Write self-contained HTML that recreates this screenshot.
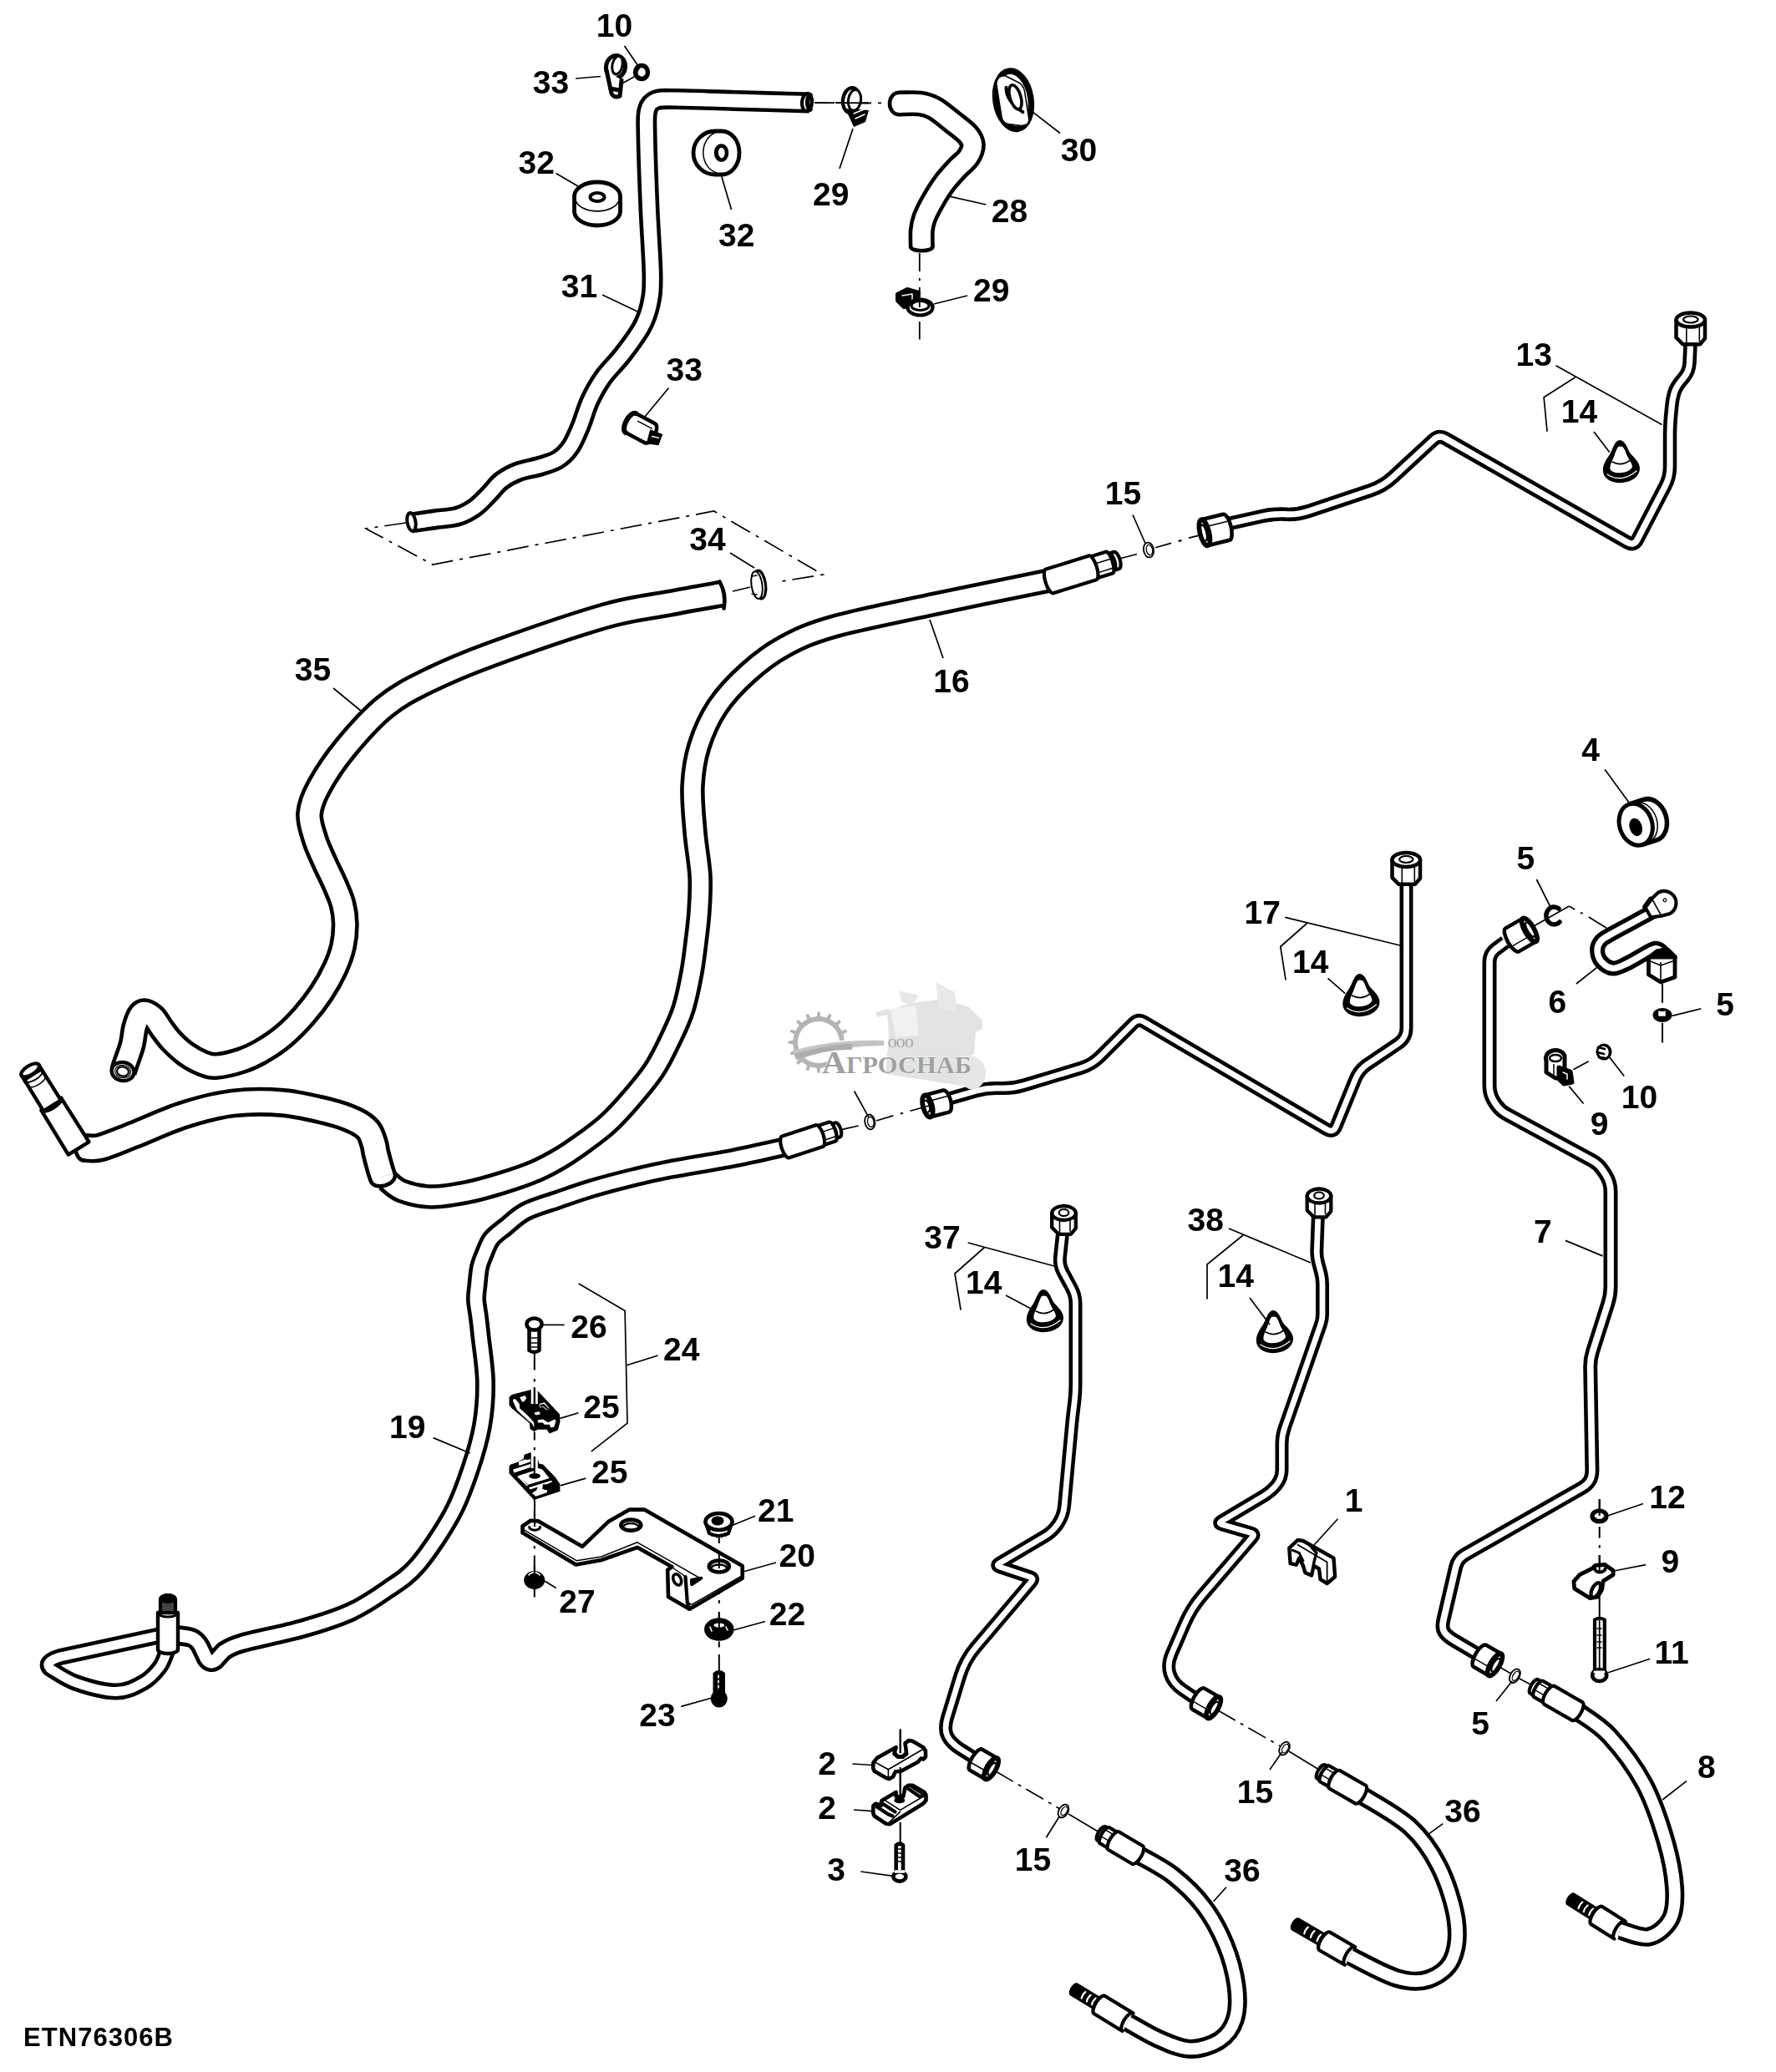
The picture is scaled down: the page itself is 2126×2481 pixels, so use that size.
<!DOCTYPE html>
<html><head><meta charset="utf-8"><title>ETN76306B</title>
<style>html,body{margin:0;padding:0;background:#fff;}body{width:2126px;height:2481px;overflow:hidden;font-family:"Liberation Sans",sans-serif;}</style></head>
<body>
<svg xmlns="http://www.w3.org/2000/svg" width="2126" height="2481" viewBox="0 0 2126 2481" style="display:block" font-family="Liberation Sans, sans-serif" font-weight="bold">
<path d="M969.0 123.0 C954.2 122.6 906.5 121.2 880.0 120.5 C853.5 119.8 825.8 118.6 810.0 118.5 C794.2 118.4 790.8 117.8 785.0 120.0 C779.2 122.2 776.8 125.3 775.0 132.0 C773.2 138.7 773.7 140.3 774.0 160.0 C774.3 179.7 775.8 221.7 777.0 250.0 C778.2 278.3 780.8 310.8 781.0 330.0 C781.2 349.2 780.2 354.7 778.0 365.0 C775.8 375.3 773.5 382.0 768.0 392.0 C762.5 402.0 752.7 415.0 745.0 425.0 C737.3 435.0 728.5 442.8 722.0 452.0 C715.5 461.2 710.5 470.3 706.0 480.0 C701.5 489.7 698.8 500.8 695.0 510.0 C691.2 519.2 687.5 528.3 683.0 535.0 C678.5 541.7 674.0 546.2 668.0 550.0 C662.0 553.8 655.0 555.5 647.0 558.0 C639.0 560.5 627.8 562.0 620.0 565.0 C612.2 568.0 605.8 571.5 600.0 576.0 C594.2 580.5 590.3 586.7 585.0 592.0 C579.7 597.3 574.2 603.7 568.0 608.0 C561.8 612.3 556.0 615.7 548.0 618.0 C540.0 620.3 529.3 620.7 520.0 622.0 C510.7 623.3 496.7 625.3 492.0 626.0" fill="none" stroke="#000" stroke-width="25.0" stroke-linecap="butt" stroke-linejoin="round"/>
<path d="M969.0 123.0 C954.2 122.6 906.5 121.2 880.0 120.5 C853.5 119.8 825.8 118.6 810.0 118.5 C794.2 118.4 790.8 117.8 785.0 120.0 C779.2 122.2 776.8 125.3 775.0 132.0 C773.2 138.7 773.7 140.3 774.0 160.0 C774.3 179.7 775.8 221.7 777.0 250.0 C778.2 278.3 780.8 310.8 781.0 330.0 C781.2 349.2 780.2 354.7 778.0 365.0 C775.8 375.3 773.5 382.0 768.0 392.0 C762.5 402.0 752.7 415.0 745.0 425.0 C737.3 435.0 728.5 442.8 722.0 452.0 C715.5 461.2 710.5 470.3 706.0 480.0 C701.5 489.7 698.8 500.8 695.0 510.0 C691.2 519.2 687.5 528.3 683.0 535.0 C678.5 541.7 674.0 546.2 668.0 550.0 C662.0 553.8 655.0 555.5 647.0 558.0 C639.0 560.5 627.8 562.0 620.0 565.0 C612.2 568.0 605.8 571.5 600.0 576.0 C594.2 580.5 590.3 586.7 585.0 592.0 C579.7 597.3 574.2 603.7 568.0 608.0 C561.8 612.3 556.0 615.7 548.0 618.0 C540.0 620.3 529.3 620.7 520.0 622.0 C510.7 623.3 496.7 625.3 492.0 626.0" fill="none" stroke="#fff" stroke-width="15.8" stroke-linecap="butt" stroke-linejoin="round"/>
<path d="M1077.0 124.0 C1081.0 124.0 1094.1 123.1 1101.0 124.0 C1107.9 124.9 1111.8 125.9 1118.3 129.5 C1124.8 133.1 1133.1 140.4 1139.7 145.6 C1146.3 150.8 1153.8 156.0 1157.9 160.6 C1162.0 165.2 1164.1 168.8 1164.3 173.4 C1164.5 178.0 1162.0 183.8 1159.0 188.4 C1156.0 193.0 1150.7 196.2 1146.1 201.2 C1141.5 206.2 1136.0 211.9 1131.2 218.3 C1126.4 224.7 1121.4 232.6 1117.3 239.7 C1113.2 246.8 1108.9 255.0 1106.6 261.1 C1104.3 267.2 1103.8 270.4 1103.3 276.1 C1102.8 281.8 1103.3 292.1 1103.3 295.3" fill="none" stroke="#000" stroke-width="31.0" stroke-linecap="butt" stroke-linejoin="round"/>
<path d="M1077.0 124.0 C1081.0 124.0 1094.1 123.1 1101.0 124.0 C1107.9 124.9 1111.8 125.9 1118.3 129.5 C1124.8 133.1 1133.1 140.4 1139.7 145.6 C1146.3 150.8 1153.8 156.0 1157.9 160.6 C1162.0 165.2 1164.1 168.8 1164.3 173.4 C1164.5 178.0 1162.0 183.8 1159.0 188.4 C1156.0 193.0 1150.7 196.2 1146.1 201.2 C1141.5 206.2 1136.0 211.9 1131.2 218.3 C1126.4 224.7 1121.4 232.6 1117.3 239.7 C1113.2 246.8 1108.9 255.0 1106.6 261.1 C1104.3 267.2 1103.8 270.4 1103.3 276.1 C1102.8 281.8 1103.3 292.1 1103.3 295.3" fill="none" stroke="#fff" stroke-width="21.8" stroke-linecap="butt" stroke-linejoin="round"/>
<path d="M1077.0 110.8 C1061.0 110.8 1061.0 137.2 1077.0 137.2" fill="#fff" stroke="#000" stroke-width="4.6" stroke-linejoin="round" stroke-linecap="round" />
<path d="M1090.1 295.3 C1090.1 301.9 1116.5 301.9 1116.5 295.3" fill="#fff" stroke="#000" stroke-width="4.6" stroke-linejoin="round" stroke-linecap="round" />
<path d="M864.0 711.0 C853.3 712.9 823.5 718.0 800.0 722.5 C776.5 727.0 758.3 727.8 723.0 738.0 C687.7 748.2 623.2 770.6 588.0 783.5 C552.8 796.4 533.2 805.1 512.0 815.5 C490.8 825.9 477.3 832.8 461.0 846.0 C444.7 859.2 427.2 879.0 414.0 895.0 C400.8 911.0 389.2 928.8 382.0 942.0 C374.8 955.2 371.4 963.8 370.6 974.3 C369.8 984.8 374.1 995.3 377.0 1005.0 C379.9 1014.7 384.3 1023.2 388.3 1032.3 C392.3 1041.3 397.4 1050.9 401.0 1059.3 C404.6 1067.7 408.0 1074.9 410.0 1082.7 C412.0 1090.5 413.1 1097.6 413.2 1106.0 C413.3 1114.4 412.5 1124.0 410.5 1133.0 C408.5 1142.0 405.3 1150.7 401.0 1160.0 C396.7 1169.3 390.9 1179.7 384.7 1189.0 C378.5 1198.3 371.5 1207.4 364.0 1216.0 C356.5 1224.6 348.0 1233.3 339.6 1240.4 C331.2 1247.5 321.9 1253.5 313.5 1258.4 C305.1 1263.3 298.2 1266.7 289.2 1269.7 C280.2 1272.7 267.2 1275.8 259.5 1276.4 C251.8 1277.0 249.4 1275.7 243.2 1273.3 C237.0 1270.9 228.9 1266.6 222.5 1262.0 C216.1 1257.4 209.4 1251.0 204.5 1245.8 C199.6 1240.6 196.6 1235.8 193.0 1231.0 C189.4 1226.2 186.8 1220.1 183.0 1217.0 C179.2 1213.9 173.5 1210.5 170.0 1212.5 C166.5 1214.5 164.0 1222.6 162.0 1229.0 C160.0 1235.4 160.0 1243.4 158.0 1251.0 C156.0 1258.6 151.8 1269.3 150.0 1274.6 C148.2 1279.9 147.9 1281.6 147.5 1283.0" fill="none" stroke="#000" stroke-width="33.0" stroke-linecap="butt" stroke-linejoin="round"/>
<path d="M864.0 711.0 C853.3 712.9 823.5 718.0 800.0 722.5 C776.5 727.0 758.3 727.8 723.0 738.0 C687.7 748.2 623.2 770.6 588.0 783.5 C552.8 796.4 533.2 805.1 512.0 815.5 C490.8 825.9 477.3 832.8 461.0 846.0 C444.7 859.2 427.2 879.0 414.0 895.0 C400.8 911.0 389.2 928.8 382.0 942.0 C374.8 955.2 371.4 963.8 370.6 974.3 C369.8 984.8 374.1 995.3 377.0 1005.0 C379.9 1014.7 384.3 1023.2 388.3 1032.3 C392.3 1041.3 397.4 1050.9 401.0 1059.3 C404.6 1067.7 408.0 1074.9 410.0 1082.7 C412.0 1090.5 413.1 1097.6 413.2 1106.0 C413.3 1114.4 412.5 1124.0 410.5 1133.0 C408.5 1142.0 405.3 1150.7 401.0 1160.0 C396.7 1169.3 390.9 1179.7 384.7 1189.0 C378.5 1198.3 371.5 1207.4 364.0 1216.0 C356.5 1224.6 348.0 1233.3 339.6 1240.4 C331.2 1247.5 321.9 1253.5 313.5 1258.4 C305.1 1263.3 298.2 1266.7 289.2 1269.7 C280.2 1272.7 267.2 1275.8 259.5 1276.4 C251.8 1277.0 249.4 1275.7 243.2 1273.3 C237.0 1270.9 228.9 1266.6 222.5 1262.0 C216.1 1257.4 209.4 1251.0 204.5 1245.8 C199.6 1240.6 196.6 1235.8 193.0 1231.0 C189.4 1226.2 186.8 1220.1 183.0 1217.0 C179.2 1213.9 173.5 1210.5 170.0 1212.5 C166.5 1214.5 164.0 1222.6 162.0 1229.0 C160.0 1235.4 160.0 1243.4 158.0 1251.0 C156.0 1258.6 151.8 1269.3 150.0 1274.6 C148.2 1279.9 147.9 1281.6 147.5 1283.0" fill="none" stroke="#fff" stroke-width="23.8" stroke-linecap="butt" stroke-linejoin="round"/>
<path d="M1256.0 695.0 C1233.3 699.7 1162.8 713.8 1120.0 723.0 C1077.2 732.2 1029.2 741.5 999.0 750.0 C968.8 758.5 956.3 764.7 939.0 774.0 C921.7 783.3 908.3 794.0 895.0 806.0 C881.7 818.0 868.7 831.5 859.0 846.0 C849.3 860.5 842.0 877.2 837.0 893.0 C832.0 908.8 829.8 923.7 829.0 941.0 C828.2 958.3 830.5 979.0 832.0 997.0 C833.5 1015.0 837.2 1033.5 838.0 1049.0 C838.8 1064.5 837.7 1078.2 837.0 1090.0 C836.3 1101.8 835.5 1107.7 834.0 1120.0 C832.5 1132.3 830.7 1149.3 828.0 1164.0 C825.3 1178.7 822.2 1194.6 818.0 1208.0 C813.8 1221.4 808.3 1232.3 802.5 1244.5 C796.7 1256.7 790.6 1269.4 783.0 1281.0 C775.4 1292.6 766.2 1303.3 757.0 1314.0 C747.8 1324.7 737.5 1336.2 728.0 1345.0 C718.5 1353.8 709.3 1360.2 700.0 1367.0 C690.7 1373.8 681.7 1380.2 672.0 1386.0 C662.3 1391.8 653.4 1396.9 641.6 1402.0 C629.8 1407.1 614.6 1412.2 601.0 1416.4 C587.4 1420.6 574.0 1424.6 560.0 1427.4 C546.0 1430.2 530.2 1433.2 517.0 1433.0 C503.8 1432.8 490.2 1429.5 481.0 1426.0 C471.8 1422.5 465.2 1414.3 462.0 1412.0" fill="none" stroke="#000" stroke-width="29.5" stroke-linecap="butt" stroke-linejoin="round"/>
<path d="M1256.0 695.0 C1233.3 699.7 1162.8 713.8 1120.0 723.0 C1077.2 732.2 1029.2 741.5 999.0 750.0 C968.8 758.5 956.3 764.7 939.0 774.0 C921.7 783.3 908.3 794.0 895.0 806.0 C881.7 818.0 868.7 831.5 859.0 846.0 C849.3 860.5 842.0 877.2 837.0 893.0 C832.0 908.8 829.8 923.7 829.0 941.0 C828.2 958.3 830.5 979.0 832.0 997.0 C833.5 1015.0 837.2 1033.5 838.0 1049.0 C838.8 1064.5 837.7 1078.2 837.0 1090.0 C836.3 1101.8 835.5 1107.7 834.0 1120.0 C832.5 1132.3 830.7 1149.3 828.0 1164.0 C825.3 1178.7 822.2 1194.6 818.0 1208.0 C813.8 1221.4 808.3 1232.3 802.5 1244.5 C796.7 1256.7 790.6 1269.4 783.0 1281.0 C775.4 1292.6 766.2 1303.3 757.0 1314.0 C747.8 1324.7 737.5 1336.2 728.0 1345.0 C718.5 1353.8 709.3 1360.2 700.0 1367.0 C690.7 1373.8 681.7 1380.2 672.0 1386.0 C662.3 1391.8 653.4 1396.9 641.6 1402.0 C629.8 1407.1 614.6 1412.2 601.0 1416.4 C587.4 1420.6 574.0 1424.6 560.0 1427.4 C546.0 1430.2 530.2 1433.2 517.0 1433.0 C503.8 1432.8 490.2 1429.5 481.0 1426.0 C471.8 1422.5 465.2 1414.3 462.0 1412.0" fill="none" stroke="#fff" stroke-width="20.3" stroke-linecap="butt" stroke-linejoin="round"/>
<path d="M98.0 1374.0 C101.7 1374.0 109.7 1376.5 120.0 1374.0 C130.3 1371.5 143.3 1365.5 160.0 1359.0 C176.7 1352.5 200.2 1341.3 220.0 1335.0 C239.8 1328.7 259.2 1323.4 279.0 1321.0 C298.8 1318.6 319.7 1318.8 339.0 1320.5 C358.3 1322.2 380.6 1327.9 395.0 1331.5 C409.4 1335.1 418.0 1338.6 425.6 1342.3 C433.2 1346.0 437.2 1349.0 440.8 1353.4 C444.4 1357.8 445.9 1364.0 447.4 1368.6 C448.9 1373.2 448.8 1376.1 450.0 1381.0 C451.2 1385.9 453.2 1393.3 454.5 1398.0 C455.8 1402.7 457.4 1407.2 458.0 1409.0" fill="none" stroke="#000" stroke-width="35.0" stroke-linecap="butt" stroke-linejoin="round"/>
<path d="M98.0 1374.0 C101.7 1374.0 109.7 1376.5 120.0 1374.0 C130.3 1371.5 143.3 1365.5 160.0 1359.0 C176.7 1352.5 200.2 1341.3 220.0 1335.0 C239.8 1328.7 259.2 1323.4 279.0 1321.0 C298.8 1318.6 319.7 1318.8 339.0 1320.5 C358.3 1322.2 380.6 1327.9 395.0 1331.5 C409.4 1335.1 418.0 1338.6 425.6 1342.3 C433.2 1346.0 437.2 1349.0 440.8 1353.4 C444.4 1357.8 445.9 1364.0 447.4 1368.6 C448.9 1373.2 448.8 1376.1 450.0 1381.0 C451.2 1385.9 453.2 1393.3 454.5 1398.0 C455.8 1402.7 457.4 1407.2 458.0 1409.0" fill="none" stroke="#fff" stroke-width="25.8" stroke-linecap="butt" stroke-linejoin="round"/>
<path d="M95.7 1358.8 C85.1 1360.4 89.6 1390.8 100.3 1389.2" fill="#fff" stroke="#000" stroke-width="4.6" stroke-linejoin="round" stroke-linecap="round" />
<path d="M443.4 1413.1 C447.4 1427.1 476.5 1418.9 472.6 1404.9" fill="#fff" stroke="#000" stroke-width="4.6" stroke-linejoin="round" stroke-linecap="round" />
<path d="M941.0 1373.0 C930.7 1375.2 902.5 1381.9 879.0 1386.5 C855.5 1391.1 819.8 1396.7 800.0 1400.5 C780.2 1404.3 775.1 1405.6 760.0 1409.3 C744.9 1413.0 724.4 1418.3 709.2 1422.8 C694.0 1427.3 681.9 1431.8 668.6 1436.4 C655.3 1441.0 640.2 1445.0 629.5 1450.5 C618.8 1456.0 611.4 1464.0 604.5 1469.5 C597.6 1475.0 592.4 1478.2 588.2 1483.6 C584.0 1489.0 581.9 1496.3 579.5 1501.9 C577.1 1507.5 575.4 1511.2 574.0 1517.4 C572.6 1523.6 572.1 1532.6 571.4 1539.0 C570.7 1545.4 569.8 1549.8 570.0 1556.0 C570.2 1562.2 571.8 1568.9 572.7 1576.2 C573.6 1583.5 574.0 1586.9 575.4 1600.0 C576.8 1613.1 580.7 1637.2 581.0 1655.0 C581.3 1672.8 580.0 1689.7 577.0 1707.0 C574.0 1724.3 569.0 1741.3 563.0 1759.0 C557.0 1776.7 551.5 1793.8 541.0 1813.0 C530.5 1832.2 513.0 1858.8 500.0 1874.0 C487.0 1889.2 476.3 1894.7 463.0 1904.0 C449.7 1913.3 436.8 1922.3 420.0 1930.0 C403.2 1937.7 383.8 1943.8 362.0 1950.0 C340.2 1956.2 305.2 1963.0 289.5 1967.5 C273.8 1972.0 271.6 1975.4 268.0 1977.0 L258 1988 Q252 1993 247 1986 L241.7 1974.8 Q236 1962 226 1960 L212 1958" fill="none" stroke="#000" stroke-width="24.0" stroke-linecap="butt" stroke-linejoin="round"/>
<path d="M941.0 1373.0 C930.7 1375.2 902.5 1381.9 879.0 1386.5 C855.5 1391.1 819.8 1396.7 800.0 1400.5 C780.2 1404.3 775.1 1405.6 760.0 1409.3 C744.9 1413.0 724.4 1418.3 709.2 1422.8 C694.0 1427.3 681.9 1431.8 668.6 1436.4 C655.3 1441.0 640.2 1445.0 629.5 1450.5 C618.8 1456.0 611.4 1464.0 604.5 1469.5 C597.6 1475.0 592.4 1478.2 588.2 1483.6 C584.0 1489.0 581.9 1496.3 579.5 1501.9 C577.1 1507.5 575.4 1511.2 574.0 1517.4 C572.6 1523.6 572.1 1532.6 571.4 1539.0 C570.7 1545.4 569.8 1549.8 570.0 1556.0 C570.2 1562.2 571.8 1568.9 572.7 1576.2 C573.6 1583.5 574.0 1586.9 575.4 1600.0 C576.8 1613.1 580.7 1637.2 581.0 1655.0 C581.3 1672.8 580.0 1689.7 577.0 1707.0 C574.0 1724.3 569.0 1741.3 563.0 1759.0 C557.0 1776.7 551.5 1793.8 541.0 1813.0 C530.5 1832.2 513.0 1858.8 500.0 1874.0 C487.0 1889.2 476.3 1894.7 463.0 1904.0 C449.7 1913.3 436.8 1922.3 420.0 1930.0 C403.2 1937.7 383.8 1943.8 362.0 1950.0 C340.2 1956.2 305.2 1963.0 289.5 1967.5 C273.8 1972.0 271.6 1975.4 268.0 1977.0 L258 1988 Q252 1993 247 1986 L241.7 1974.8 Q236 1962 226 1960 L212 1958" fill="none" stroke="#fff" stroke-width="14.8" stroke-linecap="butt" stroke-linejoin="round"/>
<path d="M190 1958.5 L72 1984 Q52 1990 60 1998  C65.2 2000.8 77.8 2010.4 91.0 2015.0 C104.2 2019.6 125.7 2025.5 139.0 2025.5 C152.3 2025.5 162.3 2019.8 171.0 2015.0 C179.7 2010.2 186.2 2002.8 191.0 1996.5 C195.8 1990.2 198.5 1980.2 200.0 1977.0" fill="none" stroke="#000" stroke-width="20.0" stroke-linecap="butt" stroke-linejoin="round"/>
<path d="M190 1958.5 L72 1984 Q52 1990 60 1998  C65.2 2000.8 77.8 2010.4 91.0 2015.0 C104.2 2019.6 125.7 2025.5 139.0 2025.5 C152.3 2025.5 162.3 2019.8 171.0 2015.0 C179.7 2010.2 186.2 2002.8 191.0 1996.5 C195.8 1990.2 198.5 1980.2 200.0 1977.0" fill="none" stroke="#fff" stroke-width="10.8" stroke-linecap="butt" stroke-linejoin="round"/>
<path d="M1471.0 627.0 L1511.3 618.0 Q1525.0 615.0 1539.0 615.7 L1539.0 615.8 Q1553.0 616.5 1566.3 612.1 L1640.8 587.1 Q1656.0 582.0 1667.7 571.1 L1715.9 526.6 Q1722.5 520.5 1730.3 525.0 L1948.2 649.5 Q1956.0 654.0 1960.1 646.0 L1993.5 581.7 Q1999.0 571.0 1999.0 559.0 L1999.0 522.0 Q1999.0 510.0 2000.1 498.1 L2001.3 486.0 Q2002.0 478.0 2004.0 471.0 L2004.0 471.0 Q2006.0 464.0 2012.3 456.3 L2015.7 452.2 Q2022.0 444.5 2022.5 434.5 L2023.2 420.0 Q2023.5 414.0 2023.5 408.0 L2023.5 400.0" fill="none" stroke="#000" stroke-width="16.5" stroke-linecap="butt" stroke-linejoin="round"/>
<path d="M1471.0 627.0 L1511.3 618.0 Q1525.0 615.0 1539.0 615.7 L1539.0 615.8 Q1553.0 616.5 1566.3 612.1 L1640.8 587.1 Q1656.0 582.0 1667.7 571.1 L1715.9 526.6 Q1722.5 520.5 1730.3 525.0 L1948.2 649.5 Q1956.0 654.0 1960.1 646.0 L1993.5 581.7 Q1999.0 571.0 1999.0 559.0 L1999.0 522.0 Q1999.0 510.0 2000.1 498.1 L2001.3 486.0 Q2002.0 478.0 2004.0 471.0 L2004.0 471.0 Q2006.0 464.0 2012.3 456.3 L2015.7 452.2 Q2022.0 444.5 2022.5 434.5 L2023.2 420.0 Q2023.5 414.0 2023.5 408.0 L2023.5 400.0" fill="none" stroke="#fff" stroke-width="7.3" stroke-linecap="butt" stroke-linejoin="round"/>
<path d="M1138.0 1315.0 L1168.5 1306.3 Q1180.0 1303.0 1192.0 1303.0 L1202.0 1303.0 Q1214.0 1303.0 1225.5 1299.5 L1293.6 1279.0 Q1307.0 1275.0 1316.9 1265.1 L1356.8 1225.2 Q1362.5 1219.5 1369.4 1223.6 L1588.2 1352.4 Q1596.0 1357.0 1599.4 1348.7 L1622.5 1292.1 Q1627.0 1281.0 1637.0 1274.3 L1673.5 1249.7 Q1683.5 1243.0 1683.5 1231.0 L1683.5 1060.0" fill="none" stroke="#000" stroke-width="16.0" stroke-linecap="butt" stroke-linejoin="round"/>
<path d="M1138.0 1315.0 L1168.5 1306.3 Q1180.0 1303.0 1192.0 1303.0 L1202.0 1303.0 Q1214.0 1303.0 1225.5 1299.5 L1293.6 1279.0 Q1307.0 1275.0 1316.9 1265.1 L1356.8 1225.2 Q1362.5 1219.5 1369.4 1223.6 L1588.2 1352.4 Q1596.0 1357.0 1599.4 1348.7 L1622.5 1292.1 Q1627.0 1281.0 1637.0 1274.3 L1673.5 1249.7 Q1683.5 1243.0 1683.5 1231.0 L1683.5 1060.0" fill="none" stroke="#fff" stroke-width="6.8" stroke-linecap="butt" stroke-linejoin="round"/>
<path d="M1272.0 1477.0 L1269.0 1505.1 Q1268.0 1515.0 1272.8 1523.8 L1282.7 1542.2 Q1287.5 1551.0 1287.5 1561.0 L1287.5 1658.0 Q1287.5 1668.0 1286.3 1677.9 L1284.8 1690.1 Q1283.6 1700.0 1282.7 1710.0 L1274.1 1803.1 Q1273.0 1815.0 1266.5 1824.5 L1265.6 1825.7 Q1260.0 1834.0 1251.4 1839.1 L1196.3 1871.9 Q1192.0 1874.5 1196.7 1876.1 L1233.3 1888.4 Q1238.0 1890.0 1234.8 1893.8 L1167.9 1972.7 Q1155.0 1988.0 1149.2 2007.1 L1134.1 2056.6 Q1130.0 2070.0 1134.0 2078.5 L1134.0 2078.5 Q1138.0 2087.0 1149.8 2094.5 L1168.0 2106.0" fill="none" stroke="#000" stroke-width="16.0" stroke-linecap="butt" stroke-linejoin="round"/>
<path d="M1272.0 1477.0 L1269.0 1505.1 Q1268.0 1515.0 1272.8 1523.8 L1282.7 1542.2 Q1287.5 1551.0 1287.5 1561.0 L1287.5 1658.0 Q1287.5 1668.0 1286.3 1677.9 L1284.8 1690.1 Q1283.6 1700.0 1282.7 1710.0 L1274.1 1803.1 Q1273.0 1815.0 1266.5 1824.5 L1265.6 1825.7 Q1260.0 1834.0 1251.4 1839.1 L1196.3 1871.9 Q1192.0 1874.5 1196.7 1876.1 L1233.3 1888.4 Q1238.0 1890.0 1234.8 1893.8 L1167.9 1972.7 Q1155.0 1988.0 1149.2 2007.1 L1134.1 2056.6 Q1130.0 2070.0 1134.0 2078.5 L1134.0 2078.5 Q1138.0 2087.0 1149.8 2094.5 L1168.0 2106.0" fill="none" stroke="#fff" stroke-width="6.8" stroke-linecap="butt" stroke-linejoin="round"/>
<path d="M1578.0 1452.0 L1576.3 1497.0 Q1576.0 1505.0 1578.2 1512.7 L1580.8 1522.3 Q1583.0 1530.0 1583.0 1538.0 L1583.0 1574.0 Q1583.0 1580.0 1581.0 1585.7 L1537.8 1709.6 Q1534.5 1719.0 1534.5 1729.0 L1534.5 1760.0 Q1534.5 1770.0 1528.2 1777.8 L1527.9 1778.2 Q1521.6 1786.0 1513.0 1791.1 L1462.3 1821.4 Q1458.0 1824.0 1462.8 1825.4 L1497.7 1835.6 Q1502.5 1837.0 1499.2 1840.8 L1439.0 1910.8 Q1426.0 1926.0 1418.1 1944.4 L1402.6 1980.2 Q1397.0 1993.0 1400.5 2004.2 L1400.5 2004.2 Q1404.0 2015.5 1415.6 2023.4 L1432.0 2034.5" fill="none" stroke="#000" stroke-width="16.0" stroke-linecap="butt" stroke-linejoin="round"/>
<path d="M1578.0 1452.0 L1576.3 1497.0 Q1576.0 1505.0 1578.2 1512.7 L1580.8 1522.3 Q1583.0 1530.0 1583.0 1538.0 L1583.0 1574.0 Q1583.0 1580.0 1581.0 1585.7 L1537.8 1709.6 Q1534.5 1719.0 1534.5 1729.0 L1534.5 1760.0 Q1534.5 1770.0 1528.2 1777.8 L1527.9 1778.2 Q1521.6 1786.0 1513.0 1791.1 L1462.3 1821.4 Q1458.0 1824.0 1462.8 1825.4 L1497.7 1835.6 Q1502.5 1837.0 1499.2 1840.8 L1439.0 1910.8 Q1426.0 1926.0 1418.1 1944.4 L1402.6 1980.2 Q1397.0 1993.0 1400.5 2004.2 L1400.5 2004.2 Q1404.0 2015.5 1415.6 2023.4 L1432.0 2034.5" fill="none" stroke="#fff" stroke-width="6.8" stroke-linecap="butt" stroke-linejoin="round"/>
<path d="M1802.0 1128.0 L1791.1 1136.1 Q1783.0 1142.0 1783.0 1152.0 L1783.0 1300.0 Q1783.0 1311.0 1789.2 1320.1 L1790.9 1322.6 Q1796.0 1330.0 1803.9 1334.3 L1906.1 1389.7 Q1914.0 1394.0 1918.8 1401.6 L1922.1 1406.7 Q1928.0 1416.0 1928.0 1427.0 L1928.0 1541.0 Q1928.0 1551.0 1924.9 1560.5 L1906.6 1618.0 Q1903.5 1627.5 1903.7 1637.5 L1905.9 1760.0 Q1906.0 1768.0 1903.0 1773.0 L1903.0 1773.0 Q1900.0 1778.0 1893.1 1782.0 L1753.7 1861.5 Q1745.0 1866.5 1742.7 1876.2 L1728.0 1939.3 Q1725.7 1949.0 1728.8 1954.0 L1728.8 1954.0 Q1732.0 1959.0 1739.7 1963.6 L1780.0 1987.5" fill="none" stroke="#000" stroke-width="17.0" stroke-linecap="butt" stroke-linejoin="round"/>
<path d="M1802.0 1128.0 L1791.1 1136.1 Q1783.0 1142.0 1783.0 1152.0 L1783.0 1300.0 Q1783.0 1311.0 1789.2 1320.1 L1790.9 1322.6 Q1796.0 1330.0 1803.9 1334.3 L1906.1 1389.7 Q1914.0 1394.0 1918.8 1401.6 L1922.1 1406.7 Q1928.0 1416.0 1928.0 1427.0 L1928.0 1541.0 Q1928.0 1551.0 1924.9 1560.5 L1906.6 1618.0 Q1903.5 1627.5 1903.7 1637.5 L1905.9 1760.0 Q1906.0 1768.0 1903.0 1773.0 L1903.0 1773.0 Q1900.0 1778.0 1893.1 1782.0 L1753.7 1861.5 Q1745.0 1866.5 1742.7 1876.2 L1728.0 1939.3 Q1725.7 1949.0 1728.8 1954.0 L1728.8 1954.0 Q1732.0 1959.0 1739.7 1963.6 L1780.0 1987.5" fill="none" stroke="#fff" stroke-width="7.8" stroke-linecap="butt" stroke-linejoin="round"/>
<path d="M1990.0 1085.0 C1987.9 1086.2 1983.5 1088.7 1977.3 1092.1 C1971.0 1095.5 1960.8 1101.1 1952.5 1105.6 C1944.2 1110.1 1933.7 1115.6 1927.7 1119.1 C1921.7 1122.6 1919.1 1123.5 1916.5 1126.5 C1913.9 1129.5 1912.1 1133.2 1912.1 1137.3 C1912.1 1141.4 1913.3 1147.3 1916.5 1151.0 C1919.7 1154.7 1925.4 1159.2 1931.0 1159.5 C1936.6 1159.8 1942.4 1156.1 1950.0 1152.5 C1957.6 1148.9 1970.6 1140.4 1976.4 1137.7 C1982.2 1135.0 1982.7 1135.6 1985.0 1136.5 C1987.3 1137.4 1989.5 1139.9 1990.5 1143.0 C1991.5 1146.1 1990.9 1153.0 1991.0 1155.0" fill="none" stroke="#000" stroke-width="18.0" stroke-linecap="butt" stroke-linejoin="round"/>
<path d="M1990.0 1085.0 C1987.9 1086.2 1983.5 1088.7 1977.3 1092.1 C1971.0 1095.5 1960.8 1101.1 1952.5 1105.6 C1944.2 1110.1 1933.7 1115.6 1927.7 1119.1 C1921.7 1122.6 1919.1 1123.5 1916.5 1126.5 C1913.9 1129.5 1912.1 1133.2 1912.1 1137.3 C1912.1 1141.4 1913.3 1147.3 1916.5 1151.0 C1919.7 1154.7 1925.4 1159.2 1931.0 1159.5 C1936.6 1159.8 1942.4 1156.1 1950.0 1152.5 C1957.6 1148.9 1970.6 1140.4 1976.4 1137.7 C1982.2 1135.0 1982.7 1135.6 1985.0 1136.5 C1987.3 1137.4 1989.5 1139.9 1990.5 1143.0 C1991.5 1146.1 1990.9 1153.0 1991.0 1155.0" fill="none" stroke="#fff" stroke-width="7.6" stroke-linecap="butt" stroke-linejoin="round"/>
<path d="M1888.0 2049.0 C1894.4 2053.9 1913.2 2064.0 1926.5 2078.5 C1939.8 2093.0 1956.8 2115.2 1968.0 2136.0 C1979.2 2156.8 1987.4 2182.3 1993.5 2203.0 C1999.6 2223.7 2003.5 2244.2 2004.5 2260.0 C2005.5 2275.8 2004.9 2288.2 1999.8 2298.0 C1994.7 2307.8 1984.1 2316.8 1974.0 2319.0 C1963.9 2321.2 1944.8 2312.3 1939.0 2311.0" fill="none" stroke="#000" stroke-width="23.0" stroke-linecap="butt" stroke-linejoin="round"/>
<path d="M1888.0 2049.0 C1894.4 2053.9 1913.2 2064.0 1926.5 2078.5 C1939.8 2093.0 1956.8 2115.2 1968.0 2136.0 C1979.2 2156.8 1987.4 2182.3 1993.5 2203.0 C1999.6 2223.7 2003.5 2244.2 2004.5 2260.0 C2005.5 2275.8 2004.9 2288.2 1999.8 2298.0 C1994.7 2307.8 1984.1 2316.8 1974.0 2319.0 C1963.9 2321.2 1944.8 2312.3 1939.0 2311.0" fill="none" stroke="#fff" stroke-width="13.8" stroke-linecap="butt" stroke-linejoin="round"/>
<path d="M1628.5 2148.6 C1638.3 2155.0 1671.8 2172.7 1687.5 2187.0 C1703.2 2201.3 1713.2 2216.1 1722.5 2234.6 C1731.8 2253.1 1740.3 2279.4 1743.0 2298.0 C1745.7 2316.6 1744.0 2334.0 1738.5 2346.0 C1733.0 2358.0 1721.0 2366.3 1709.8 2370.0 C1698.6 2373.7 1687.1 2373.1 1671.5 2368.4 C1655.9 2363.7 1625.2 2346.4 1616.0 2342.0" fill="none" stroke="#000" stroke-width="23.0" stroke-linecap="butt" stroke-linejoin="round"/>
<path d="M1628.5 2148.6 C1638.3 2155.0 1671.8 2172.7 1687.5 2187.0 C1703.2 2201.3 1713.2 2216.1 1722.5 2234.6 C1731.8 2253.1 1740.3 2279.4 1743.0 2298.0 C1745.7 2316.6 1744.0 2334.0 1738.5 2346.0 C1733.0 2358.0 1721.0 2366.3 1709.8 2370.0 C1698.6 2373.7 1687.1 2373.1 1671.5 2368.4 C1655.9 2363.7 1625.2 2346.4 1616.0 2342.0" fill="none" stroke="#fff" stroke-width="13.8" stroke-linecap="butt" stroke-linejoin="round"/>
<path d="M1361.8 2220.3 C1368.8 2224.5 1390.8 2235.2 1404.0 2245.6 C1417.2 2256.0 1430.8 2269.0 1441.2 2282.8 C1451.6 2296.6 1460.1 2312.6 1466.6 2328.4 C1473.1 2344.2 1478.0 2362.5 1480.0 2377.4 C1482.0 2392.3 1481.8 2406.9 1478.4 2417.9 C1475.0 2428.9 1468.8 2437.3 1459.8 2443.2 C1450.8 2449.1 1436.4 2453.7 1424.3 2453.4 C1412.2 2453.1 1399.6 2446.9 1387.2 2441.6 C1374.8 2436.2 1356.2 2424.7 1350.0 2421.3" fill="none" stroke="#000" stroke-width="23.0" stroke-linecap="butt" stroke-linejoin="round"/>
<path d="M1361.8 2220.3 C1368.8 2224.5 1390.8 2235.2 1404.0 2245.6 C1417.2 2256.0 1430.8 2269.0 1441.2 2282.8 C1451.6 2296.6 1460.1 2312.6 1466.6 2328.4 C1473.1 2344.2 1478.0 2362.5 1480.0 2377.4 C1482.0 2392.3 1481.8 2406.9 1478.4 2417.9 C1475.0 2428.9 1468.8 2437.3 1459.8 2443.2 C1450.8 2449.1 1436.4 2453.7 1424.3 2453.4 C1412.2 2453.1 1399.6 2446.9 1387.2 2441.6 C1374.8 2436.2 1356.2 2424.7 1350.0 2421.3" fill="none" stroke="#fff" stroke-width="13.8" stroke-linecap="butt" stroke-linejoin="round"/>
<g opacity="1">
<path d="M1062 1212 L1080 1204 L1100 1200 L1128 1196 L1160 1206 L1176 1222 L1176 1232 L1168 1236 L1166 1262 L1158 1266 L1156 1292 L1150 1300 L1100 1292 L1060 1286 L1064 1240 Z" fill="#e3e3e3" stroke="none" stroke-width="0.0" stroke-linejoin="round" stroke-linecap="round" />
<path d="M1120 1176 L1143 1188 L1146 1212 L1124 1206 Z" fill="#e8e8e8" stroke="none" stroke-width="0.0" stroke-linejoin="round" stroke-linecap="round" />
<path d="M1076 1186 L1100 1192 L1092 1204 L1080 1200 Z" fill="#e8e8e8" stroke="none" stroke-width="0.0" stroke-linejoin="round" stroke-linecap="round" />
<path d="M1150 1262 Q1182 1264 1180 1288 Q1176 1306 1160 1304 L1146 1296 Z" fill="#e6e6e6" stroke="none" stroke-width="0.0" stroke-linejoin="round" stroke-linecap="round" />
<path d="M1048 1212 L1064 1208 L1066 1214 L1050 1218 Z" fill="#e3e3e3" stroke="none" stroke-width="0.0" stroke-linejoin="round" stroke-linecap="round" />
<path d="M1066 1208 L1096 1204 L1100 1240 L1072 1242 Z" fill="#f2f2f2" stroke="none" stroke-width="0.0" stroke-linejoin="round" stroke-linecap="round" />
<clipPath id="gc"><path d="M940 1205 L1022 1205 L1022 1244 L960 1252 L950 1262 L990 1262 L990 1290 L940 1290 Z"/></clipPath>
<path d="M1010.9 1245.8 L1016.5 1246.4 L1016.5 1249.6 L1010.9 1250.2 L1009.4 1257.8 L1014.3 1260.4 L1013.1 1263.5 L1007.7 1261.8 L1003.4 1268.3 L1006.9 1272.6 L1004.6 1274.9 L1000.3 1271.4 L993.8 1275.7 L995.5 1281.1 L992.4 1282.3 L989.8 1277.4 L982.2 1278.9 L981.6 1284.5 L978.4 1284.5 L977.8 1278.9 L970.2 1277.4 L967.6 1282.3 L964.5 1281.1 L966.2 1275.7 L959.7 1271.4 L955.4 1274.9 L953.1 1272.6 L956.6 1268.3 L952.3 1261.8 L946.9 1263.5 L945.7 1260.4 L950.6 1257.8 L949.1 1250.2 L943.5 1249.6 L943.5 1246.4 L949.1 1245.8 L950.6 1238.2 L945.7 1235.6 L946.9 1232.5 L952.3 1234.2 L956.6 1227.7 L953.1 1223.4 L955.4 1221.1 L959.7 1224.6 L966.2 1220.3 L964.5 1214.9 L967.6 1213.7 L970.2 1218.6 L977.8 1217.1 L978.4 1211.5 L981.6 1211.5 L982.2 1217.1 L989.8 1218.6 L992.4 1213.7 L995.5 1214.9 L993.8 1220.3 L1000.3 1224.6 L1004.6 1221.1 L1006.9 1223.4 L1003.4 1227.7 L1007.7 1234.2 L1013.1 1232.5 L1014.3 1235.6 L1009.4 1238.2 Z M1005.0 1248.0 A25 25 0 1 0 955.0 1248.0 A25 25 0 1 0 1005.0 1248.0 Z" fill="#b4b4b4" fill-rule="evenodd" clip-path="url(#gc)"/>
<path d="M949 1258 Q1000 1244 1058 1246 L1058 1252 Q1000 1252 953 1270 Z" fill="#c4c4c4" stroke="none" stroke-width="0.0" stroke-linejoin="round" stroke-linecap="round" />
<path d="M950 1262 Q1000 1249 1020 1250 L1020 1257 Q990 1256 955 1268 Z" fill="#adadad" stroke="none" stroke-width="0.0" stroke-linejoin="round" stroke-linecap="round" />
<text x="1063" y="1254" font-family="Liberation Serif, serif" font-weight="normal" font-size="14" fill="#9a9a9a">ООО</text>
<text x="984" y="1285" font-family="Liberation Serif, serif" font-weight="bold" font-size="29" fill="#a0a0a0" stroke="#fff" stroke-width="0.8" paint-order="stroke" textLength="179" lengthAdjust="spacingAndGlyphs"><tspan font-size="38">А</tspan>ГРОСНАБ</text>
</g>
<ellipse cx="966.0" cy="122.5" rx="6.0" ry="10.5" fill="#fff" stroke="#000" stroke-width="4.2" transform="rotate(5.0 966.0 122.5)"/>
<path d="M970 114 A5 9 0 0 0 970 131" fill="none" stroke="#000" stroke-width="5.5" stroke-linejoin="round" stroke-linecap="round" />
<ellipse cx="492.5" cy="625.0" rx="5.0" ry="11.0" fill="#fff" stroke="#000" stroke-width="4.0" transform="rotate(-10.0 492.5 625.0)"/>
<path d="M975.0 123.0 L1062.0 123.5" fill="none" stroke="#000" stroke-width="1.8" stroke-dasharray="24 8 4 8"/>
<ellipse cx="737.0" cy="80.0" rx="11.5" ry="13.5" fill="#fff" stroke="#000" stroke-width="5.0" transform="rotate(10.0 737.0 80.0)"/>
<path d="M726 84 L732 112 Q735 118 742 115 L744 96" fill="#fff" stroke="#000" stroke-width="5.0" stroke-linejoin="round" stroke-linecap="round" />
<ellipse cx="739.0" cy="78.0" rx="6.0" ry="11.0" fill="#fff" stroke="#000" stroke-width="3.0" transform="rotate(12.0 739.0 78.0)"/>
<path d="M731 106 L741 108" fill="none" stroke="#000" stroke-width="5.0" stroke-linejoin="round" stroke-linecap="round" />
<line x1="689.0" y1="94.0" x2="719.0" y2="91.5" stroke="#000" stroke-width="1.7"/>
<line x1="741.0" y1="102.0" x2="759.0" y2="92.0" stroke="#000" stroke-width="1.8"/>
<ellipse cx="768.0" cy="86.5" rx="7.5" ry="8.0" fill="#fff" stroke="#000" stroke-width="5.5"/>
<path d="M764 82 A5 6 0 0 0 766 93" fill="none" stroke="#000" stroke-width="3.5" stroke-linejoin="round" stroke-linecap="round" />
<line x1="747.5" y1="55.0" x2="765.0" y2="80.5" stroke="#000" stroke-width="1.7"/>
<path d="M687.5 235 L687.5 253 A27.5 17 0 0 0 742.5 253 L742.5 235 A27.5 17 0 0 0 687.5 235 Z" fill="#fff" stroke="#000" stroke-width="4.8" stroke-linejoin="round" stroke-linecap="round" />
<path d="M689 240 A26.5 16 0 0 0 741 240" fill="none" stroke="#000" stroke-width="1.6" stroke-linejoin="round" stroke-linecap="round" />
<ellipse cx="715.0" cy="236.0" rx="8.5" ry="5.0" fill="#fff" stroke="#000" stroke-width="4.0"/>
<line x1="665.5" y1="207.6" x2="692.0" y2="223.0" stroke="#000" stroke-width="1.7"/>
<path d="M856 157 L864 157 A21 26 0 0 1 864 209 L856 209 A26 26 0 0 1 856 157 Z" fill="#fff" stroke="#000" stroke-width="4.8" stroke-linejoin="round" stroke-linecap="round" />
<path d="M856 159 A21 25 0 0 0 858 207" fill="none" stroke="#000" stroke-width="1.5" stroke-linejoin="round" stroke-linecap="round" />
<ellipse cx="863.5" cy="183.0" rx="6.5" ry="8.5" fill="#fff" stroke="#000" stroke-width="4.5"/>
<path d="M860 176 A5 8 0 0 0 861 190" fill="none" stroke="#000" stroke-width="4.0" stroke-linejoin="round" stroke-linecap="round" />
<line x1="863.0" y1="208.5" x2="875.5" y2="251.0" stroke="#000" stroke-width="1.7"/>
<ellipse cx="1019.0" cy="120.0" rx="10.0" ry="15.0" fill="#fff" stroke="#000" stroke-width="4.2" transform="rotate(8.0 1019.0 120.0)"/>
<ellipse cx="1023.0" cy="120.0" rx="7.5" ry="12.5" fill="#fff" stroke="#000" stroke-width="3.0" transform="rotate(8.0 1023.0 120.0)"/>
<path d="M1012 130 L1022 152 L1036 146 L1040 132 Z" fill="#000" stroke="#000" stroke-width="0.0" stroke-linejoin="round" stroke-linecap="round" />
<path d="M1022 136 L1034 131 M1024 142 L1035 137" fill="none" stroke="#fff" stroke-width="1.5" stroke-linejoin="round" stroke-linecap="round" />
<line x1="1000.0" y1="123.0" x2="1040.0" y2="123.5" stroke="#000" stroke-width="1.8"/>
<line x1="1021.0" y1="154.0" x2="1005.0" y2="202.0" stroke="#000" stroke-width="1.7"/>
<path d="M1074 352 L1086 346 L1100 350 L1098 366 L1082 368 L1074 360 Z" fill="#000" stroke="#000" stroke-width="4.0" stroke-linejoin="round" stroke-linecap="round" />
<path d="M1080 354 L1092 352 L1092 362" fill="none" stroke="#fff" stroke-width="1.5" stroke-linejoin="round" stroke-linecap="round" />
<ellipse cx="1101.5" cy="368.0" rx="15.0" ry="9.5" fill="#fff" stroke="#000" stroke-width="4.2"/>
<ellipse cx="1101.5" cy="366.0" rx="10.5" ry="5.5" fill="#fff" stroke="#000" stroke-width="3.0"/>
<line x1="1100.8" y1="303.0" x2="1100.8" y2="325.0" stroke="#000" stroke-width="1.8"/>
<line x1="1100.8" y1="333.0" x2="1100.8" y2="336.0" stroke="#000" stroke-width="1.8"/>
<line x1="1100.8" y1="344.0" x2="1100.8" y2="368.0" stroke="#000" stroke-width="1.8"/>
<line x1="1100.8" y1="385.0" x2="1100.8" y2="406.5" stroke="#000" stroke-width="1.8"/>
<line x1="1118.0" y1="364.0" x2="1158.0" y2="354.0" stroke="#000" stroke-width="1.7"/>
<line x1="1137.6" y1="235.4" x2="1180.4" y2="245.0" stroke="#000" stroke-width="1.7"/>
<g transform="rotate(-9 1211 120)">
<ellipse cx="1213.0" cy="120.0" rx="21.0" ry="35.0" fill="#fff" stroke="#000" stroke-width="7.5"/>
<path d="M1196 98 Q1198 88 1208 90 L1222 100 Q1228 104 1228 112 L1228 146 Q1227 153 1218 152 L1204 148 Q1196 146 1196 138 Z" fill="#fff" stroke="#000" stroke-width="1.6" stroke-linejoin="round" stroke-linecap="round" />
<path d="M1207 104 Q1204 120 1222 136" fill="none" stroke="#000" stroke-width="4.0" stroke-linejoin="round" stroke-linecap="round" />
<ellipse cx="1216.0" cy="117.0" rx="6.5" ry="15.0" fill="#fff" stroke="#000" stroke-width="3.6" transform="rotate(-8.0 1216.0 117.0)"/>
</g>
<line x1="1233.0" y1="131.7" x2="1269.0" y2="159.5" stroke="#000" stroke-width="1.7"/>
<line x1="721.0" y1="353.0" x2="763.0" y2="373.0" stroke="#000" stroke-width="1.7"/>
<g transform="translate(771 515) rotate(28)">
<path d="M-18 -13 L8 -13 A6 13 0 0 1 8 13 L-18 13 A6 13 0 0 1 -18 -13 Z" fill="#fff" stroke="#000" stroke-width="4.5" stroke-linejoin="round" stroke-linecap="round" />
<path d="M-18 -13 A6 13 0 0 0 -18 13" fill="none" stroke="#000" stroke-width="6.0" stroke-linejoin="round" stroke-linecap="round" />
<path d="M6 -4 L22 -6 L24 8 L10 13 Z" fill="#000" stroke="#000" stroke-width="0.0" stroke-linejoin="round" stroke-linecap="round" />
<path d="M12 2 L20 0" fill="none" stroke="#fff" stroke-width="1.5" stroke-linejoin="round" stroke-linecap="round" />
<line x1="-12.0" y1="-6.0" x2="8.0" y2="-6.0" stroke="#000" stroke-width="1.5"/>
</g>
<line x1="800.5" y1="464.5" x2="771.5" y2="499.5" stroke="#000" stroke-width="1.7"/>
<path d="M486.0 626.0 L438.0 633.0 L518.0 676.0 L854.5 612.0 L985.0 688.0 L930.0 697.0" fill="none" stroke="#000" stroke-width="1.7" stroke-dasharray="26 8 4 8"/>
<line x1="877.0" y1="708.0" x2="898.0" y2="703.0" stroke="#000" stroke-width="1.7"/>
<ellipse cx="909.5" cy="700.0" rx="7.0" ry="17.0" fill="#fff" stroke="#000" stroke-width="3.2" transform="rotate(-8.0 909.5 700.0)"/>
<ellipse cx="906.0" cy="700.5" rx="6.5" ry="16.5" fill="#fff" stroke="#000" stroke-width="2.0" transform="rotate(-8.0 906.0 700.5)"/>
<path d="M900 690 L906 689 M900 711 L906 712" fill="none" stroke="#000" stroke-width="1.5" stroke-linejoin="round" stroke-linecap="round" />
<line x1="874.0" y1="662.0" x2="903.0" y2="680.0" stroke="#000" stroke-width="1.7"/>
<path d="M861.5 696.5 Q870 712 866.5 728.5" fill="none" stroke="#000" stroke-width="4.6" stroke-linejoin="round" stroke-linecap="round" />
<ellipse cx="147.0" cy="1283.0" rx="13.5" ry="11.0" fill="#fff" stroke="#000" stroke-width="4.4" transform="rotate(10.0 147.0 1283.0)"/>
<ellipse cx="147.0" cy="1283.0" rx="9.5" ry="7.5" fill="#fff" stroke="#000" stroke-width="1.3" transform="rotate(10.0 147.0 1283.0)"/>
<ellipse cx="147.0" cy="1283.0" rx="7.0" ry="5.5" fill="#fff" stroke="#000" stroke-width="2.2" transform="rotate(10.0 147.0 1283.0)"/>
<g transform="translate(1256.4 695.9) rotate(-17.29)">
<path d="M72.9 -10.5 L84.1 -10.5 A4 10.5 0 0 1 84.1 10.5 L72.9 10.5 Z" fill="#fff" stroke="#000" stroke-width="4.2" stroke-linejoin="round" stroke-linecap="round" />
<path d="M78.1 -10.5 A4 10.5 0 0 1 78.1 10.5" fill="none" stroke="#000" stroke-width="3.2" stroke-linejoin="round" stroke-linecap="round" />
<path d="M52.0 -13.5 L74.9 -13.5 A4 13.5 0 0 1 74.9 13.5 L52.0 13.5 Z" fill="#fff" stroke="#000" stroke-width="4.2" stroke-linejoin="round" stroke-linecap="round" />
<line x1="54.0" y1="-3.8" x2="76.9" y2="-3.8" stroke="#000" stroke-width="1.5"/>
<line x1="54.0" y1="7.6" x2="76.9" y2="7.6" stroke="#000" stroke-width="1.5"/>
<path d="M0.0 -15.0 L54.0 -15.0 A5 15.0 0 0 1 54.0 15.0 L0.0 15.0 A5 15.0 0 0 1 0.0 -15.0 Z" fill="#fff" stroke="#000" stroke-width="4.2" stroke-linejoin="round" stroke-linecap="round" />
</g>
<path d="M1340.0 669.0 L1361.0 663.5" fill="none" stroke="#000" stroke-width="1.7" stroke-dasharray="22 7 3 7"/>
<line x1="1383.0" y1="655.7" x2="1402.0" y2="650.4" stroke="#000" stroke-width="1.7"/>
<line x1="1410.5" y1="648.0" x2="1414.5" y2="647.0" stroke="#000" stroke-width="1.9"/>
<line x1="1423.0" y1="644.2" x2="1467.0" y2="633.7" stroke="#000" stroke-width="1.7"/>
<ellipse cx="1375.0" cy="658.5" rx="6.0" ry="9.0" fill="#fff" stroke="#000" stroke-width="1.8" transform="rotate(-10.0 1375.0 658.5)"/>
<ellipse cx="1376.0" cy="658.5" rx="3.7" ry="6.2" fill="#fff" stroke="#000" stroke-width="1.3" transform="rotate(-10.0 1376.0 658.5)"/>
<line x1="1356.0" y1="616.5" x2="1371.2" y2="651.0" stroke="#000" stroke-width="1.7"/>
<g transform="translate(1455.0 634.5) rotate(-14.0)">
<path d="M-13.5 -16.0 L13.5 -16.0 A5.5 16.0 0 0 1 13.5 16.0 L-13.5 16.0 Z" fill="#fff" stroke="#000" stroke-width="4.5" stroke-linejoin="round" stroke-linecap="round" />
<line x1="-9.5" y1="-6.4" x2="16.5" y2="-6.4" stroke="#000" stroke-width="1.5"/>
<ellipse cx="-13.5" cy="0.0" rx="5.5" ry="16.0" fill="#fff" stroke="#000" stroke-width="5.7"/>
<path d="M-14.0 -9.5 A3.0 9.5 0 0 1 -14.0 9.5" fill="none" stroke="#000" stroke-width="2.6" stroke-linejoin="round" stroke-linecap="round" />
</g>
<path d="M2006.5 383.0 L2006.5 404.2 L2014.5 412.2 L2035.0 412.2 L2041.0 405.2 L2041.0 383.0 Z" fill="#fff" stroke="#000" stroke-width="4.5" stroke-linejoin="round" stroke-linecap="round" />
<line x1="2018.8" y1="389.0" x2="2018.8" y2="411.2" stroke="#000" stroke-width="1.6"/>
<line x1="2034.3" y1="388.0" x2="2034.3" y2="409.2" stroke="#000" stroke-width="1.6"/>
<ellipse cx="2023.8" cy="383.0" rx="17.2" ry="8.5" fill="#fff" stroke="#000" stroke-width="4.5"/>
<ellipse cx="2023.8" cy="382.5" rx="8.8" ry="4.0" fill="#fff" stroke="#000" stroke-width="2.2"/>
<g transform="translate(1941.0 561.0)">
<path d="M-2 -34 C-8 -34 -10 -24 -14 -17 C-19 -10 -23 -3 -22 4 C-21 13 -10 18 1 17 C13 16 22 9 22 0 C22 -8 14 -14 10 -19 C7 -25 4 -34 -2 -34 Z" fill="#000" stroke="none" stroke-width="0.0" stroke-linejoin="round" stroke-linecap="round" />
<path d="M-2 -28 C-5 -26 -7 -20 -9 -14 C-12 -8 -14 -3 -13.5 1 C-10 7.5 9 6.5 13 -2 C13 -6 8 -12 6 -17 C4.5 -22 2 -27 -2 -28 Z" fill="#fff" stroke="none" stroke-width="0.0" stroke-linejoin="round" stroke-linecap="round" />
<path d="M-11 -8 Q0 -2 10.5 -10" fill="none" stroke="#000" stroke-width="1.6" stroke-linejoin="round" stroke-linecap="round" />
<path d="M-17 7 Q0 18 18 3" fill="none" stroke="#fff" stroke-width="1.2" stroke-linejoin="round" stroke-linecap="round" />
<path d="M-4 -27 L1 -27" fill="none" stroke="#000" stroke-width="1.5" stroke-linejoin="round" stroke-linecap="round" />
</g>
<line x1="1908.0" y1="517.0" x2="1926.7" y2="541.6" stroke="#000" stroke-width="1.7"/>
<line x1="1862.5" y1="437.7" x2="1989.5" y2="508.6" stroke="#000" stroke-width="1.7"/>
<path d="M1885.3 452 L1848.1 475.7 L1852 516.2" fill="none" stroke="#000" stroke-width="1.7" stroke-linejoin="round" stroke-linecap="round" />
<line x1="1113.0" y1="742.0" x2="1129.0" y2="788.0" stroke="#000" stroke-width="1.7"/>
<line x1="399.0" y1="824.0" x2="433.0" y2="852.0" stroke="#000" stroke-width="1.7"/>
<g transform="rotate(-18 1962 986)">
<path d="M1958 960.5 L1976 960.5 A19.5 25.5 0 0 1 1976 1011.5 L1958 1011.5 Z" fill="#fff" stroke="#000" stroke-width="5.5" stroke-linejoin="round" stroke-linecap="round" />
<ellipse cx="1958.0" cy="986.0" rx="19.5" ry="25.5" fill="#fff" stroke="#000" stroke-width="5.0"/>
<path d="M1970 962 A19 25 0 0 1 1970 1010" fill="none" stroke="#000" stroke-width="1.5" stroke-linejoin="round" stroke-linecap="round" />
<ellipse cx="1957.0" cy="989.0" rx="7.5" ry="11.0" fill="#000" stroke="#000" stroke-width="0.0"/>
</g>
<line x1="1921.2" y1="921.4" x2="1949.5" y2="960.3" stroke="#000" stroke-width="1.7"/>
<path d="M1866 1088 A9.5 10.5 0 1 0 1867 1104" fill="none" stroke="#000" stroke-width="5.5" stroke-linejoin="round" stroke-linecap="round" />
<line x1="1839.4" y1="1053.0" x2="1856.0" y2="1086.0" stroke="#000" stroke-width="1.7"/>
<line x1="1824.8" y1="1115.2" x2="1878.4" y2="1085.0" stroke="#000" stroke-width="1.7"/>
<line x1="1878.4" y1="1085.0" x2="1885.2" y2="1088.9" stroke="#000" stroke-width="1.7"/>
<line x1="1892.0" y1="1092.6" x2="1894.5" y2="1094.0" stroke="#000" stroke-width="1.9"/>
<line x1="1901.8" y1="1098.0" x2="1923.2" y2="1111.3" stroke="#000" stroke-width="1.7"/>
<g transform="translate(1820.5 1119.5) rotate(150.0)">
<path d="M-12.0 -16.0 L12.0 -16.0 A5.5 16.0 0 0 1 12.0 16.0 L-12.0 16.0 Z" fill="#fff" stroke="#000" stroke-width="4.5" stroke-linejoin="round" stroke-linecap="round" />
<line x1="-8.0" y1="-6.4" x2="15.0" y2="-6.4" stroke="#000" stroke-width="1.5"/>
<ellipse cx="-12.0" cy="0.0" rx="5.5" ry="16.0" fill="#fff" stroke="#000" stroke-width="5.7"/>
<path d="M-12.5 -9.5 A3.0 9.5 0 0 1 -12.5 9.5" fill="none" stroke="#000" stroke-width="2.6" stroke-linejoin="round" stroke-linecap="round" />
</g>
<g transform="translate(1989 1083) rotate(-29) scale(0.85)">
<path d="M-22 -8.5 L-8 -14 L4 -17 A17 17 0 0 1 4 17 L-8 14 L-22 8.5 Z" fill="#fff" stroke="#000" stroke-width="4.8" stroke-linejoin="round" stroke-linecap="round" />
<path d="M-8 -14 L-8 14" fill="none" stroke="#000" stroke-width="2.0" stroke-linejoin="round" stroke-linecap="round" />
<ellipse cx="7.0" cy="-3.0" rx="2.2" ry="2.2" fill="#fff" stroke="#000" stroke-width="1.4"/>
<path d="M-22 -8.5 L-10 -14" fill="none" stroke="#000" stroke-width="7.0" stroke-linejoin="round" stroke-linecap="round" />
</g>
<path d="M1973.5 1146 L1973.5 1167 L1988 1176 L2005 1170 L2005 1146 Z" fill="#fff" stroke="#000" stroke-width="4.8" stroke-linejoin="round" stroke-linecap="round" />
<line x1="1988.0" y1="1152.0" x2="1988.0" y2="1175.0" stroke="#000" stroke-width="1.6"/>
<path d="M1973.5 1150 L1988 1156 L2005 1150" fill="none" stroke="#000" stroke-width="1.6" stroke-linejoin="round" stroke-linecap="round" />
<path d="M1975 1146 L1984 1139 L1996 1137 L2005 1146" fill="#000" stroke="#000" stroke-width="5.5" stroke-linejoin="round" stroke-linecap="round" />
<line x1="1990.0" y1="1178.0" x2="1990.0" y2="1200.7" stroke="#000" stroke-width="2.0"/>
<line x1="1990.0" y1="1225.0" x2="1990.0" y2="1248.5" stroke="#000" stroke-width="2.0"/>
<ellipse cx="1990.0" cy="1215.5" rx="9.0" ry="6.0" fill="#000" stroke="#000" stroke-width="5.0"/>
<path d="M1986 1211 L1986 1216 L1993 1216 L1993 1211" fill="#fff" stroke="#fff" stroke-width="1.5" stroke-linejoin="round" stroke-linecap="round" />
<line x1="2001.6" y1="1216.4" x2="2036.3" y2="1207.7" stroke="#000" stroke-width="1.7"/>
<line x1="1886.9" y1="1178.0" x2="1913.0" y2="1157.3" stroke="#000" stroke-width="1.7"/>
<path d="M1851 1270 A11 9 0 0 1 1873 1264 L1873 1290 L1862 1291 L1851 1284 Z" fill="#fff" stroke="#000" stroke-width="5.0" stroke-linejoin="round" stroke-linecap="round" />
<ellipse cx="1862.0" cy="1267.0" rx="7.0" ry="4.0" fill="#fff" stroke="#000" stroke-width="2.5"/>
<line x1="1860.0" y1="1274.0" x2="1860.0" y2="1290.0" stroke="#000" stroke-width="1.5"/>
<path d="M1866 1278 L1880 1283 L1882 1296 L1872 1298 L1866 1292 Z" fill="#000" stroke="#000" stroke-width="5.0" stroke-linejoin="round" stroke-linecap="round" />
<path d="M1871 1284 L1876 1286 L1876 1292" fill="none" stroke="#fff" stroke-width="1.5" stroke-linejoin="round" stroke-linecap="round" />
<line x1="1883.4" y1="1280.7" x2="1901.7" y2="1270.8" stroke="#000" stroke-width="1.8"/>
<line x1="1878.2" y1="1300.6" x2="1895.6" y2="1321.5" stroke="#000" stroke-width="1.7"/>
<ellipse cx="1920.0" cy="1259.5" rx="8.0" ry="8.5" fill="#fff" stroke="#000" stroke-width="3.0"/>
<path d="M1913 1254 L1921 1256 M1912 1260 L1920 1262 M1914 1266 L1921 1267" fill="none" stroke="#000" stroke-width="2.8" stroke-linejoin="round" stroke-linecap="round" />
<path d="M1921 1252 A6 8 0 0 1 1921 1268" fill="none" stroke="#000" stroke-width="2.6" stroke-linejoin="round" stroke-linecap="round" />
<line x1="1926.0" y1="1265.0" x2="1944.2" y2="1288.5" stroke="#000" stroke-width="1.7"/>
<line x1="1873.9" y1="1485.4" x2="1918.5" y2="1503.9" stroke="#000" stroke-width="1.7"/>
<path d="M1666.5 1029.5 L1666.5 1050.8 L1674.5 1058.8 L1694.0 1058.8 L1700.0 1051.8 L1700.0 1029.5 Z" fill="#fff" stroke="#000" stroke-width="4.5" stroke-linejoin="round" stroke-linecap="round" />
<line x1="1678.3" y1="1035.5" x2="1678.3" y2="1057.8" stroke="#000" stroke-width="1.6"/>
<line x1="1693.3" y1="1034.5" x2="1693.3" y2="1055.8" stroke="#000" stroke-width="1.6"/>
<ellipse cx="1683.3" cy="1029.5" rx="16.8" ry="8.5" fill="#fff" stroke="#000" stroke-width="4.5"/>
<ellipse cx="1683.3" cy="1029.0" rx="8.2" ry="4.0" fill="#fff" stroke="#000" stroke-width="2.2"/>
<g transform="translate(1629.5 1200.0)">
<path d="M-2 -34 C-8 -34 -10 -24 -14 -17 C-19 -10 -23 -3 -22 4 C-21 13 -10 18 1 17 C13 16 22 9 22 0 C22 -8 14 -14 10 -19 C7 -25 4 -34 -2 -34 Z" fill="#000" stroke="none" stroke-width="0.0" stroke-linejoin="round" stroke-linecap="round" />
<path d="M-2 -28 C-5 -26 -7 -20 -9 -14 C-12 -8 -14 -3 -13.5 1 C-10 7.5 9 6.5 13 -2 C13 -6 8 -12 6 -17 C4.5 -22 2 -27 -2 -28 Z" fill="#fff" stroke="none" stroke-width="0.0" stroke-linejoin="round" stroke-linecap="round" />
<path d="M-11 -8 Q0 -2 10.5 -10" fill="none" stroke="#000" stroke-width="1.6" stroke-linejoin="round" stroke-linecap="round" />
<path d="M-17 7 Q0 18 18 3" fill="none" stroke="#fff" stroke-width="1.2" stroke-linejoin="round" stroke-linecap="round" />
<path d="M-4 -27 L1 -27" fill="none" stroke="#000" stroke-width="1.5" stroke-linejoin="round" stroke-linecap="round" />
</g>
<line x1="1589.5" y1="1171.4" x2="1610.3" y2="1189.7" stroke="#000" stroke-width="1.7"/>
<line x1="1538.2" y1="1098.4" x2="1676.0" y2="1132.0" stroke="#000" stroke-width="1.7"/>
<path d="M1564 1106 L1532.8 1133.5 L1539 1172.8" fill="none" stroke="#000" stroke-width="1.7" stroke-linejoin="round" stroke-linecap="round" />
<g transform="translate(1121.5 1321.5) rotate(-15.0)">
<path d="M-11.5 -13.5 L11.5 -13.5 A5.5 13.5 0 0 1 11.5 13.5 L-11.5 13.5 Z" fill="#fff" stroke="#000" stroke-width="4.5" stroke-linejoin="round" stroke-linecap="round" />
<line x1="-7.5" y1="-5.4" x2="14.5" y2="-5.4" stroke="#000" stroke-width="1.5"/>
<ellipse cx="-11.5" cy="0.0" rx="5.5" ry="13.5" fill="#fff" stroke="#000" stroke-width="5.7"/>
<path d="M-12.0 -7.0 A3.0 7.0 0 0 1 -12.0 7.0" fill="none" stroke="#000" stroke-width="2.6" stroke-linejoin="round" stroke-linecap="round" />
</g>
<g transform="translate(940.5 1373.4) rotate(-18.25)">
<path d="M56.8 -9.0 L65.3 -9.0 A4 9.0 0 0 1 65.3 9.0 L56.8 9.0 Z" fill="#fff" stroke="#000" stroke-width="4.2" stroke-linejoin="round" stroke-linecap="round" />
<path d="M59.3 -9.0 A4 9.0 0 0 1 59.3 9.0" fill="none" stroke="#000" stroke-width="3.2" stroke-linejoin="round" stroke-linecap="round" />
<path d="M40.4 -12.0 L58.8 -12.0 A4 12.0 0 0 1 58.8 12.0 L40.4 12.0 Z" fill="#fff" stroke="#000" stroke-width="4.2" stroke-linejoin="round" stroke-linecap="round" />
<line x1="42.4" y1="-3.4" x2="60.8" y2="-3.4" stroke="#000" stroke-width="1.5"/>
<line x1="42.4" y1="6.7" x2="60.8" y2="6.7" stroke="#000" stroke-width="1.5"/>
<path d="M0.0 -13.5 L42.4 -13.5 A5 13.5 0 0 1 42.4 13.5 L0.0 13.5 A5 13.5 0 0 1 0.0 -13.5 Z" fill="#fff" stroke="#000" stroke-width="4.2" stroke-linejoin="round" stroke-linecap="round" />
</g>
<line x1="1005.4" y1="1353.1" x2="1027.7" y2="1348.0" stroke="#000" stroke-width="1.7"/>
<line x1="1049.0" y1="1342.0" x2="1069.3" y2="1335.9" stroke="#000" stroke-width="1.7"/>
<line x1="1078.0" y1="1333.5" x2="1081.0" y2="1332.7" stroke="#000" stroke-width="1.9"/>
<line x1="1089.5" y1="1330.2" x2="1112.8" y2="1323.7" stroke="#000" stroke-width="1.7"/>
<ellipse cx="1041.3" cy="1343.4" rx="6.0" ry="9.0" fill="#fff" stroke="#000" stroke-width="1.8" transform="rotate(-10.0 1041.3 1343.4)"/>
<ellipse cx="1042.3" cy="1343.4" rx="3.7" ry="6.2" fill="#fff" stroke="#000" stroke-width="1.3" transform="rotate(-10.0 1042.3 1343.4)"/>
<line x1="1022.6" y1="1306.5" x2="1039.9" y2="1337.9" stroke="#000" stroke-width="1.7"/>
<g transform="translate(92 1371.5) rotate(-121.8)">
<path d="M-4 -14.5 L58 -14 L58 14 L-4 14.5 Z" fill="#fff" stroke="#000" stroke-width="4.4" stroke-linejoin="round" stroke-linecap="round" />
<path d="M56 -12.3 L100 -12 L100 12 L56 12.3 Z" fill="#fff" stroke="#000" stroke-width="4.4" stroke-linejoin="round" stroke-linecap="round" />
<path d="M58 -14 A5 14 0 0 0 58 14" fill="none" stroke="#000" stroke-width="4.2" stroke-linejoin="round" stroke-linecap="round" />
<ellipse cx="106.0" cy="0.0" rx="5.5" ry="12.3" fill="#fff" stroke="#000" stroke-width="4.2"/>
<path d="M96 -12 L106 -12.3 M96 12 L106 12.3" fill="none" stroke="#000" stroke-width="4.2" stroke-linejoin="round" stroke-linecap="round" />
<path d="M98 -12 A5 12 0 0 0 98 12" fill="none" stroke="#000" stroke-width="2.0" stroke-linejoin="round" stroke-linecap="round" />
<path d="M91 -12 A5 12 0 0 0 91 12" fill="none" stroke="#000" stroke-width="1.5" stroke-linejoin="round" stroke-linecap="round" />
</g>
<path d="M189 1931 L189 1975 A12 5 0 0 0 213 1975 L213 1931 Z" fill="#fff" stroke="#000" stroke-width="4.4" stroke-linejoin="round" stroke-linecap="round" />
<path d="M192 1915 L192 1931 L210 1931 L210 1915 A9 5 0 0 0 192 1915 Z" fill="#444" stroke="#000" stroke-width="4.2" stroke-linejoin="round" stroke-linecap="round" />
<ellipse cx="201.0" cy="1914.0" rx="8.5" ry="4.5" fill="#000" stroke="#000" stroke-width="3.0"/>
<path d="M189 1931 A12 5 0 0 0 213 1931" fill="none" stroke="#000" stroke-width="3.0" stroke-linejoin="round" stroke-linecap="round" />
<line x1="518.6" y1="1721.6" x2="562.7" y2="1740.0" stroke="#000" stroke-width="1.7"/>
<path d="M1259.2 1452.5 L1259.2 1469.8 L1267.2 1477.8 L1281.8 1477.8 L1287.8 1470.8 L1287.8 1452.5 Z" fill="#fff" stroke="#000" stroke-width="4.3" stroke-linejoin="round" stroke-linecap="round" />
<line x1="1268.5" y1="1458.5" x2="1268.5" y2="1476.8" stroke="#000" stroke-width="1.6"/>
<line x1="1281.0" y1="1457.5" x2="1281.0" y2="1474.8" stroke="#000" stroke-width="1.6"/>
<ellipse cx="1273.5" cy="1452.5" rx="14.3" ry="8.5" fill="#fff" stroke="#000" stroke-width="4.3"/>
<ellipse cx="1273.5" cy="1452.0" rx="5.8" ry="4.0" fill="#fff" stroke="#000" stroke-width="2.2"/>
<path d="M1564.7 1432.0 L1564.7 1449.3 L1572.7 1457.3 L1587.3 1457.3 L1593.3 1450.3 L1593.3 1432.0 Z" fill="#fff" stroke="#000" stroke-width="4.3" stroke-linejoin="round" stroke-linecap="round" />
<line x1="1574.0" y1="1438.0" x2="1574.0" y2="1456.3" stroke="#000" stroke-width="1.6"/>
<line x1="1586.5" y1="1437.0" x2="1586.5" y2="1454.3" stroke="#000" stroke-width="1.6"/>
<ellipse cx="1579.0" cy="1432.0" rx="14.3" ry="8.5" fill="#fff" stroke="#000" stroke-width="4.3"/>
<ellipse cx="1579.0" cy="1431.5" rx="5.8" ry="4.0" fill="#fff" stroke="#000" stroke-width="2.2"/>
<g transform="translate(1251.0 1578.0)">
<path d="M-2 -34 C-8 -34 -10 -24 -14 -17 C-19 -10 -23 -3 -22 4 C-21 13 -10 18 1 17 C13 16 22 9 22 0 C22 -8 14 -14 10 -19 C7 -25 4 -34 -2 -34 Z" fill="#000" stroke="none" stroke-width="0.0" stroke-linejoin="round" stroke-linecap="round" />
<path d="M-2 -28 C-5 -26 -7 -20 -9 -14 C-12 -8 -14 -3 -13.5 1 C-10 7.5 9 6.5 13 -2 C13 -6 8 -12 6 -17 C4.5 -22 2 -27 -2 -28 Z" fill="#fff" stroke="none" stroke-width="0.0" stroke-linejoin="round" stroke-linecap="round" />
<path d="M-11 -8 Q0 -2 10.5 -10" fill="none" stroke="#000" stroke-width="1.6" stroke-linejoin="round" stroke-linecap="round" />
<path d="M-17 7 Q0 18 18 3" fill="none" stroke="#fff" stroke-width="1.2" stroke-linejoin="round" stroke-linecap="round" />
<path d="M-4 -27 L1 -27" fill="none" stroke="#000" stroke-width="1.5" stroke-linejoin="round" stroke-linecap="round" />
</g>
<g transform="translate(1526.0 1603.0)">
<path d="M-2 -34 C-8 -34 -10 -24 -14 -17 C-19 -10 -23 -3 -22 4 C-21 13 -10 18 1 17 C13 16 22 9 22 0 C22 -8 14 -14 10 -19 C7 -25 4 -34 -2 -34 Z" fill="#000" stroke="none" stroke-width="0.0" stroke-linejoin="round" stroke-linecap="round" />
<path d="M-2 -28 C-5 -26 -7 -20 -9 -14 C-12 -8 -14 -3 -13.5 1 C-10 7.5 9 6.5 13 -2 C13 -6 8 -12 6 -17 C4.5 -22 2 -27 -2 -28 Z" fill="#fff" stroke="none" stroke-width="0.0" stroke-linejoin="round" stroke-linecap="round" />
<path d="M-11 -8 Q0 -2 10.5 -10" fill="none" stroke="#000" stroke-width="1.6" stroke-linejoin="round" stroke-linecap="round" />
<path d="M-17 7 Q0 18 18 3" fill="none" stroke="#fff" stroke-width="1.2" stroke-linejoin="round" stroke-linecap="round" />
<path d="M-4 -27 L1 -27" fill="none" stroke="#000" stroke-width="1.5" stroke-linejoin="round" stroke-linecap="round" />
</g>
<line x1="1158.7" y1="1488.0" x2="1262.0" y2="1516.0" stroke="#000" stroke-width="1.7"/>
<path d="M1178 1494 L1143 1525 L1150 1568" fill="none" stroke="#000" stroke-width="1.7" stroke-linejoin="round" stroke-linecap="round" />
<line x1="1204.0" y1="1551.0" x2="1236.0" y2="1568.0" stroke="#000" stroke-width="1.7"/>
<line x1="1471.0" y1="1471.0" x2="1569.0" y2="1512.0" stroke="#000" stroke-width="1.7"/>
<path d="M1488 1479 L1445 1514 L1445 1555" fill="none" stroke="#000" stroke-width="1.7" stroke-linejoin="round" stroke-linecap="round" />
<line x1="1496.0" y1="1554.0" x2="1520.0" y2="1586.0" stroke="#000" stroke-width="1.7"/>
<line x1="639.8" y1="1621.0" x2="639.8" y2="1640.5" stroke="#000" stroke-width="2.0"/>
<line x1="639.8" y1="1651.0" x2="639.8" y2="1654.5" stroke="#000" stroke-width="2.0"/>
<line x1="639.8" y1="1662.0" x2="639.8" y2="1684.0" stroke="#000" stroke-width="2.0"/>
<line x1="639.8" y1="1714.5" x2="639.8" y2="1724.5" stroke="#000" stroke-width="2.0"/>
<line x1="639.8" y1="1733.0" x2="639.8" y2="1736.5" stroke="#000" stroke-width="2.0"/>
<line x1="639.8" y1="1744.0" x2="639.8" y2="1768.0" stroke="#000" stroke-width="2.0"/>
<line x1="639.8" y1="1793.5" x2="639.8" y2="1798.0" stroke="#000" stroke-width="2.0"/>
<line x1="639.8" y1="1807.5" x2="639.8" y2="1829.0" stroke="#000" stroke-width="2.0"/>
<line x1="639.8" y1="1838.0" x2="639.8" y2="1843.0" stroke="#000" stroke-width="2.0"/>
<line x1="639.8" y1="1851.0" x2="639.8" y2="1854.5" stroke="#000" stroke-width="2.0"/>
<line x1="639.8" y1="1862.5" x2="639.8" y2="1892.0" stroke="#000" stroke-width="2.0"/>
<line x1="639.8" y1="1901.5" x2="639.8" y2="1912.5" stroke="#000" stroke-width="2.0"/>
<path d="M633.5 1592 L633.5 1617 Q639.5 1621 645.5 1617 L645.5 1592 Z" fill="#fff" stroke="#000" stroke-width="4.5" stroke-linejoin="round" stroke-linecap="round" />
<ellipse cx="639.5" cy="1585.5" rx="9.0" ry="7.0" fill="#fff" stroke="#000" stroke-width="4.5"/>
<path d="M636 1602 L643 1602 M636 1608 L643 1608 M636 1613 L643 1613" fill="none" stroke="#000" stroke-width="1.4" stroke-linejoin="round" stroke-linecap="round" />
<line x1="648.6" y1="1586.4" x2="675.6" y2="1586.4" stroke="#000" stroke-width="1.7"/>
<path d="M693.2 1537.3 L748.1 1569.5 L751 1704.2 L708.3 1737.6" fill="none" stroke="#000" stroke-width="1.7" stroke-linejoin="round" stroke-linecap="round" />
<line x1="750.3" y1="1634.7" x2="787.7" y2="1623.0" stroke="#000" stroke-width="1.7"/>
<path d="M609.5 1673.1 L612.6 1669.9 L635.7 1664.1 L635.7 1680.9 L643.8 1680.9 L643.8 1665.4 L670.1 1693.6 L670.5 1702.5 L667.8 1712.5 L657.7 1716.4 L654.6 1711.7 L643.8 1711.7 L639.2 1714.0 L634.6 1711.0 L633.8 1704.0 L612.6 1686.3 L609.5 1682.4 Z" fill="#000" stroke="none" stroke-width="0.0" stroke-linejoin="round" stroke-linecap="round" />
<path d="M614.1 1675.5 L617.0 1675.2 L621.8 1680.9 L622.1 1686.3 L632.3 1695.5 L639.2 1703.2 L639.4 1709.4 L636.9 1704.4 L631.5 1700.2 L619.1 1688.6 L614.4 1678.7 Z" fill="#fff" stroke="none" stroke-width="0.0" stroke-linejoin="round" stroke-linecap="round" />
<path d="M622.2 1673.1 L628.4 1671.0 L630.3 1674.1 L626.9 1678.7 L624.4 1677.8 Z" fill="#fff" stroke="none" stroke-width="0.0" stroke-linejoin="round" stroke-linecap="round" />
<path d="M643.8 1700.2 L650.0 1699.4 L656.2 1703.2 L663.9 1699.4 L665.6 1701.1 L663.3 1708.6 L659.4 1709.4 L657.7 1705.7 L651.6 1705.7 L650.0 1703.4 L643.8 1703.4 Z" fill="#fff" stroke="none" stroke-width="0.0" stroke-linejoin="round" stroke-linecap="round" />
<path d="M645.4 1680.9 L651.6 1679.3 L657.7 1686.3 L654.6 1688.6 L650.0 1684.7 L646.2 1685.5 Z" fill="#fff" stroke="none" stroke-width="0.0" stroke-linejoin="round" stroke-linecap="round" />
<path d="M646.2 1682.0 L651.2 1680.9 L657.0 1686.7 L655.0 1687.8 L650.4 1684.0 L646.9 1684.7 Z" fill="#000" stroke="none" stroke-width="0.0" stroke-linejoin="round" stroke-linecap="round" />
<path d="M639.2 1691.7 L645.4 1690.1 L646.9 1693.2 L641.5 1694.4 Z" fill="#fff" stroke="none" stroke-width="0.0" stroke-linejoin="round" stroke-linecap="round" />
<line x1="639.8" y1="1661.0" x2="639.8" y2="1686.0" stroke="#000" stroke-width="2.0"/>
<line x1="670.5" y1="1698.4" x2="692.5" y2="1691.8" stroke="#000" stroke-width="1.7"/>
<path d="M609.5 1755.7 L611.4 1753.4 L619.1 1751.1 L626.9 1746.5 L627.6 1741.8 L635.7 1739.1 L635.7 1758.0 L643.8 1758.0 L643.8 1747.2 L645.4 1752.6 L650.0 1753.4 L664.7 1768.8 L670.1 1776.5 L670.5 1785.8 L639.2 1796.0 L609.5 1764.2 Z" fill="#000" stroke="none" stroke-width="0.0" stroke-linejoin="round" stroke-linecap="round" />
<path d="M614.1 1759.6 L635.0 1753.0 L635.0 1756.9 L615.3 1763.4 Z" fill="#fff" stroke="none" stroke-width="0.0" stroke-linejoin="round" stroke-linecap="round" />
<path d="M620.7 1750.3 L628.4 1747.4 L632.3 1748.0 L634.6 1746.8 L635.0 1750.3 L621.5 1754.9 Z" fill="#fff" stroke="none" stroke-width="0.0" stroke-linejoin="round" stroke-linecap="round" />
<path d="M619.9 1767.3 L639.2 1761.1 L639.2 1758.0 L644.2 1758.0 L649.2 1759.6 L657.7 1770.0 L632.3 1777.7 Z" fill="#fff" stroke="none" stroke-width="0.0" stroke-linejoin="round" stroke-linecap="round" />
<path d="M619.1 1768.1 L621.1 1767.4 L632.3 1778.7 L630.7 1779.3 Z" fill="#fff" stroke="none" stroke-width="0.0" stroke-linejoin="round" stroke-linecap="round" />
<path d="M633.0 1781.2 L660.0 1772.8 L661.2 1774.2 L654.6 1777.3 L650.0 1777.3 L649.2 1782.7 L653.1 1784.3 L654.6 1783.5 L655.0 1787.0 L641.5 1791.8 L636.9 1788.1 L642.3 1784.3 L643.8 1780.4 L634.6 1783.5 Z" fill="#fff" stroke="none" stroke-width="0.0" stroke-linejoin="round" stroke-linecap="round" />
<ellipse cx="640.1" cy="1767.3" rx="6.8" ry="3.4" fill="#000" stroke="none" stroke-width="0.0"/>
<line x1="639.8" y1="1744.0" x2="639.8" y2="1767.0" stroke="#000" stroke-width="2.0"/>
<line x1="670.5" y1="1778.9" x2="701.3" y2="1770.1" stroke="#000" stroke-width="1.7"/>
<path d="M625.5 1827.5 L635.3 1820.7 L644.6 1821.4 L697.0 1851.8 L728.2 1822.1 L753.6 1807.6 L771.3 1807.6 L888.7 1875.1 L888.7 1889.7 L825.4 1926.8 L800.0 1912.0 L799.2 1879.9 L804.3 1876.1 L762.9 1852.8 L719.8 1868.0 L689.4 1873.4 L625.5 1835.3 Z" fill="#fff" stroke="#000" stroke-width="4.6" stroke-linejoin="round" stroke-linecap="round" />
<path d="M626.9 1831.6 L690.1 1868.7 L719.8 1864.0 L762.9 1846.8 L804.3 1870.4 L838.4 1890.0 L828.2 1896.1" fill="none" stroke="#000" stroke-width="1.5" stroke-linejoin="round" stroke-linecap="round" />
<path d="M888.0 1887.0 L827.9 1921.4 L823.2 1918.7 L820.8 1888.0 L804.3 1876.5" fill="none" stroke="#000" stroke-width="1.5" stroke-linejoin="round" stroke-linecap="round" />
<path d="M820.5 1888.0 L822.8 1919.1 L825.5 1926.1" fill="none" stroke="#000" stroke-width="4.2" stroke-linejoin="round" stroke-linecap="round" />
<path d="M827.9 1892.0 L839.4 1889.7 L828.2 1897.1 L827.9 1892.0" fill="none" stroke="#000" stroke-width="4.0" stroke-linejoin="round" stroke-linecap="round" />
<ellipse cx="810.7" cy="1891.4" rx="4.5" ry="7.0" fill="#fff" stroke="#000" stroke-width="3.6" transform="rotate(-25.0 810.7 1891.4)"/>
<ellipse cx="755.3" cy="1826.1" rx="12.0" ry="6.5" fill="#fff" stroke="#000" stroke-width="4.6"/>
<path d="M746.3 1828.1 A9 4 0 0 1 764.3 1828.1" fill="none" stroke="#000" stroke-width="2.5" stroke-linejoin="round" stroke-linecap="round" />
<ellipse cx="860.8" cy="1875.5" rx="12.0" ry="7.0" fill="#fff" stroke="#000" stroke-width="4.6"/>
<path d="M851.8 1877.5 A9 4 0 0 1 869.8 1877.5" fill="none" stroke="#000" stroke-width="2.5" stroke-linejoin="round" stroke-linecap="round" />
<path d="M633.6 1828.2 A6.5 4 0 0 0 646.6 1828.2" fill="none" stroke="#000" stroke-width="3.0" stroke-linejoin="round" stroke-linecap="round" />
<line x1="640.0" y1="1798.0" x2="640.0" y2="1828.0" stroke="#000" stroke-width="2.0"/>
<line x1="860.8" y1="1840.5" x2="860.8" y2="1848.0" stroke="#000" stroke-width="2.0"/>
<line x1="860.8" y1="1857.5" x2="860.8" y2="1878.0" stroke="#000" stroke-width="2.0"/>
<line x1="860.8" y1="1906.5" x2="860.8" y2="1909.0" stroke="#000" stroke-width="2.0"/>
<line x1="860.8" y1="1916.0" x2="860.8" y2="1920.0" stroke="#000" stroke-width="2.0"/>
<line x1="860.8" y1="1930.0" x2="860.8" y2="1952.0" stroke="#000" stroke-width="2.0"/>
<line x1="860.8" y1="1965.5" x2="860.8" y2="1972.5" stroke="#000" stroke-width="2.0"/>
<line x1="860.8" y1="1981.0" x2="860.8" y2="2003.0" stroke="#000" stroke-width="2.0"/>
<path d="M844.5 1822 L849 1836 Q860 1842 872 1836 L876.5 1822 Z" fill="#fff" stroke="#000" stroke-width="4.2" stroke-linejoin="round" stroke-linecap="round" />
<ellipse cx="860.5" cy="1822.0" rx="16.0" ry="10.0" fill="#fff" stroke="#000" stroke-width="4.6"/>
<ellipse cx="859.0" cy="1821.0" rx="7.5" ry="5.5" fill="#000" stroke="#000" stroke-width="0.0"/>
<path d="M852 1836 L852 1839 M858 1838 L858 1841 M864 1838 L864 1841 M869 1836 L869 1839" fill="none" stroke="#000" stroke-width="1.6" stroke-linejoin="round" stroke-linecap="round" />
<line x1="877.0" y1="1826.3" x2="904.0" y2="1815.3" stroke="#000" stroke-width="1.7"/>
<line x1="889.6" y1="1882.0" x2="929.0" y2="1871.0" stroke="#000" stroke-width="1.7"/>
<ellipse cx="860.8" cy="1951.0" rx="15.0" ry="11.0" fill="#000" stroke="#000" stroke-width="5.5"/>
<ellipse cx="860.8" cy="1946.0" rx="7.0" ry="3.2" fill="#fff" stroke="#000" stroke-width="1.2"/>
<line x1="860.8" y1="1930.0" x2="860.8" y2="1950.0" stroke="#000" stroke-width="2.0"/>
<path d="M850 1948 L852 1953 M869 1948 L871 1952" fill="none" stroke="#fff" stroke-width="1.6" stroke-linejoin="round" stroke-linecap="round" />
<line x1="877.7" y1="1952.0" x2="916.0" y2="1941.5" stroke="#000" stroke-width="1.7"/>
<path d="M855.5 2004 L855.5 2028 L866 2028 L866 2004 Q860.8 2000 855.5 2004 Z" fill="#000" stroke="#000" stroke-width="4.0" stroke-linejoin="round" stroke-linecap="round" />
<path d="M860 2006 L860 2026" fill="none" stroke="#fff" stroke-width="1.6" stroke-linejoin="round" stroke-linecap="round" stroke-dasharray='3 3'/>
<ellipse cx="860.8" cy="2034.0" rx="8.5" ry="9.0" fill="#000" stroke="#000" stroke-width="3.0"/>
<line x1="815.2" y1="2043.4" x2="851.5" y2="2033.2" stroke="#000" stroke-width="1.7"/>
<ellipse cx="639.7" cy="1892.0" rx="11.0" ry="9.5" fill="#000" stroke="#000" stroke-width="3.0"/>
<path d="M633 1886 A7 5 0 0 1 646 1886" fill="none" stroke="#fff" stroke-width="1.6" stroke-linejoin="round" stroke-linecap="round" />
<line x1="639.8" y1="1874.0" x2="639.8" y2="1893.0" stroke="#000" stroke-width="2.0"/>
<line x1="650.5" y1="1892.2" x2="665.7" y2="1901.5" stroke="#000" stroke-width="1.7"/>
<path d="M1543.3 1853.6 L1553.5 1844.0 L1559.9 1845.0 L1596.5 1865.7 L1598.1 1888.0 L1588.6 1896.0 L1580.6 1891.2 L1579.0 1878.5 L1572.6 1874.6 L1570.1 1886.4 L1562.4 1883.2 L1559.9 1874.6 L1555.1 1865.7 L1551.9 1873.7 L1544.6 1872.1 Z" fill="#fff" stroke="#000" stroke-width="4.4" stroke-linejoin="round" stroke-linecap="round" />
<path d="M1553.5 1849.8 L1588.6 1870.5 L1588.6 1894.4" fill="none" stroke="#000" stroke-width="1.8" stroke-linejoin="round" stroke-linecap="round" />
<path d="M1547.1 1856.2 L1555.1 1859.3 L1559.9 1868.9" fill="none" stroke="#000" stroke-width="3.0" stroke-linejoin="round" stroke-linecap="round" />
<path d="M1567.8 1849.8 L1575.8 1859.3 L1572.6 1872.1" fill="none" stroke="#000" stroke-width="3.5" stroke-linejoin="round" stroke-linecap="round" />
<line x1="1601.4" y1="1818.7" x2="1573.0" y2="1850.0" stroke="#000" stroke-width="1.7"/>
<line x1="1914.7" y1="1795.0" x2="1914.7" y2="1817.0" stroke="#000" stroke-width="2.0"/>
<line x1="1914.7" y1="1828.0" x2="1914.7" y2="1841.7" stroke="#000" stroke-width="2.0"/>
<line x1="1914.7" y1="1850.0" x2="1914.7" y2="1853.6" stroke="#000" stroke-width="2.0"/>
<line x1="1914.7" y1="1862.0" x2="1914.7" y2="1886.0" stroke="#000" stroke-width="2.0"/>
<line x1="1914.7" y1="1909.8" x2="1914.7" y2="1937.5" stroke="#000" stroke-width="2.0"/>
<ellipse cx="1914.5" cy="1815.5" rx="8.5" ry="6.5" fill="#fff" stroke="#000" stroke-width="5.2"/>
<path d="M1909.5 1817 A5 2.5 0 0 0 1919.5 1817" fill="none" stroke="#000" stroke-width="1.5" stroke-linejoin="round" stroke-linecap="round" />
<line x1="1914.7" y1="1795.0" x2="1914.7" y2="1815.0" stroke="#000" stroke-width="2.0"/>
<line x1="1925.0" y1="1814.7" x2="1967.0" y2="1800.5" stroke="#000" stroke-width="1.7"/>
<path d="M1883.9 1893.6 L1890.9 1885.6 L1906.0 1878.0 L1909.8 1874.3 L1921.1 1873.5 L1931.1 1880.5 L1931.1 1885.6 L1919.1 1893.1 L1917.6 1903.6 L1912.3 1912.2 L1903.5 1913.7 L1884.7 1902.1 Z" fill="#fff" stroke="#000" stroke-width="4.8" stroke-linejoin="round" stroke-linecap="round" />
<ellipse cx="1910.3" cy="1904.1" rx="4.6" ry="9.5" fill="#fff" stroke="#000" stroke-width="4.4" transform="rotate(26.0 1910.3 1904.1)"/>
<path d="M1909.0 1878.0 A6 4 0 0 0 1921.6 1878.5" fill="none" stroke="#000" stroke-width="4.0" stroke-linejoin="round" stroke-linecap="round" />
<line x1="1914.7" y1="1862.0" x2="1914.7" y2="1882.0" stroke="#000" stroke-width="2.0"/>
<line x1="1932.0" y1="1881.0" x2="1970.0" y2="1873.6" stroke="#000" stroke-width="1.7"/>
<path d="M1909 1939.5 L1909 2003 L1920.8 2003 L1920.8 1939.5 Q1914.7 1936 1909 1939.5 Z" fill="#fff" stroke="#000" stroke-width="4.2" stroke-linejoin="round" stroke-linecap="round" />
<line x1="1914.7" y1="1940.0" x2="1914.7" y2="2002.0" stroke="#000" stroke-width="1.8"/>
<path d="M1912 1950 L1917 1950 M1912 1958 L1917 1958 M1912 1966 L1917 1966 M1912 1973 L1917 1973" fill="none" stroke="#000" stroke-width="1.5" stroke-linejoin="round" stroke-linecap="round" />
<ellipse cx="1914.7" cy="2006.0" rx="8.5" ry="7.0" fill="#fff" stroke="#000" stroke-width="4.6"/>
<path d="M1909 2002 L1920 2002" fill="none" stroke="#fff" stroke-width="3.0" stroke-linejoin="round" stroke-linecap="round" />
<line x1="1925.1" y1="2002.7" x2="1975.3" y2="1986.2" stroke="#000" stroke-width="1.7"/>
<g transform="translate(1177.5 2112.5) rotate(210.0)">
<path d="M-10.5 -14.5 L10.5 -14.5 A5.5 14.5 0 0 1 10.5 14.5 L-10.5 14.5 Z" fill="#fff" stroke="#000" stroke-width="4.5" stroke-linejoin="round" stroke-linecap="round" />
<line x1="-6.5" y1="-5.8" x2="13.5" y2="-5.8" stroke="#000" stroke-width="1.5"/>
<ellipse cx="-10.5" cy="0.0" rx="5.5" ry="14.5" fill="#fff" stroke="#000" stroke-width="5.7"/>
<path d="M-11.0 -8.0 A3.0 8.0 0 0 1 -11.0 8.0" fill="none" stroke="#000" stroke-width="2.6" stroke-linejoin="round" stroke-linecap="round" />
</g>
<g transform="translate(1443.6 2039.4) rotate(210.0)">
<path d="M-10.5 -14.5 L10.5 -14.5 A5.5 14.5 0 0 1 10.5 14.5 L-10.5 14.5 Z" fill="#fff" stroke="#000" stroke-width="4.5" stroke-linejoin="round" stroke-linecap="round" />
<line x1="-6.5" y1="-5.8" x2="13.5" y2="-5.8" stroke="#000" stroke-width="1.5"/>
<ellipse cx="-10.5" cy="0.0" rx="5.5" ry="14.5" fill="#fff" stroke="#000" stroke-width="5.7"/>
<path d="M-11.0 -8.0 A3.0 8.0 0 0 1 -11.0 8.0" fill="none" stroke="#000" stroke-width="2.6" stroke-linejoin="round" stroke-linecap="round" />
</g>
<g transform="translate(1780.5 1988.0) rotate(210.0)">
<path d="M-10.5 -15.0 L10.5 -15.0 A5.5 15.0 0 0 1 10.5 15.0 L-10.5 15.0 Z" fill="#fff" stroke="#000" stroke-width="4.5" stroke-linejoin="round" stroke-linecap="round" />
<line x1="-6.5" y1="-6.0" x2="13.5" y2="-6.0" stroke="#000" stroke-width="1.5"/>
<ellipse cx="-10.5" cy="0.0" rx="5.5" ry="15.0" fill="#fff" stroke="#000" stroke-width="5.7"/>
<path d="M-11.0 -8.5 A3.0 8.5 0 0 1 -11.0 8.5" fill="none" stroke="#000" stroke-width="2.6" stroke-linejoin="round" stroke-linecap="round" />
</g>
<path d="M1192.0 2121.0 L1268.0 2165.5" fill="none" stroke="#000" stroke-width="1.7" stroke-dasharray="24 7 4 7"/>
<line x1="1279.0" y1="2172.0" x2="1316.0" y2="2194.0" stroke="#000" stroke-width="1.7"/>
<ellipse cx="1273.0" cy="2168.5" rx="5.5" ry="8.5" fill="#fff" stroke="#000" stroke-width="1.8" transform="rotate(30.0 1273.0 2168.5)"/>
<ellipse cx="1274.0" cy="2168.5" rx="3.2" ry="5.7" fill="#fff" stroke="#000" stroke-width="1.3" transform="rotate(30.0 1274.0 2168.5)"/>
<line x1="1268.3" y1="2174.8" x2="1252.4" y2="2200.3" stroke="#000" stroke-width="1.7"/>
<path d="M1458.0 2048.0 L1532.0 2090.5" fill="none" stroke="#000" stroke-width="1.7" stroke-dasharray="24 7 4 7"/>
<line x1="1543.0" y1="2097.0" x2="1579.0" y2="2119.0" stroke="#000" stroke-width="1.7"/>
<ellipse cx="1537.6" cy="2093.6" rx="5.5" ry="8.5" fill="#fff" stroke="#000" stroke-width="1.8" transform="rotate(30.0 1537.6 2093.6)"/>
<ellipse cx="1538.6" cy="2093.6" rx="3.2" ry="5.7" fill="#fff" stroke="#000" stroke-width="1.3" transform="rotate(30.0 1538.6 2093.6)"/>
<line x1="1534.4" y1="2098.3" x2="1520.0" y2="2119.0" stroke="#000" stroke-width="1.7"/>
<line x1="1795.0" y1="1996.0" x2="1808.0" y2="2003.5" stroke="#000" stroke-width="1.7"/>
<line x1="1819.0" y1="2010.0" x2="1836.0" y2="2019.0" stroke="#000" stroke-width="1.7"/>
<ellipse cx="1813.4" cy="2006.7" rx="5.5" ry="9.0" fill="#fff" stroke="#000" stroke-width="1.8" transform="rotate(30.0 1813.4 2006.7)"/>
<ellipse cx="1814.4" cy="2006.7" rx="3.2" ry="6.2" fill="#fff" stroke="#000" stroke-width="1.3" transform="rotate(30.0 1814.4 2006.7)"/>
<line x1="1810.2" y1="2013.0" x2="1791.0" y2="2037.0" stroke="#000" stroke-width="1.7"/>
<g transform="translate(1888.0 2049.0) rotate(-150.14)">
<path d="M51.5 -9.5 L59.3 -9.5 A4 9.5 0 0 1 59.3 9.5 L51.5 9.5 Z" fill="#fff" stroke="#000" stroke-width="4.2" stroke-linejoin="round" stroke-linecap="round" />
<path d="M53.3 -9.5 A4 9.5 0 0 1 53.3 9.5" fill="none" stroke="#000" stroke-width="3.2" stroke-linejoin="round" stroke-linecap="round" />
<path d="M36.6 -11.0 L53.5 -11.0 A4 11.0 0 0 1 53.5 11.0 L36.6 11.0 Z" fill="#fff" stroke="#000" stroke-width="4.2" stroke-linejoin="round" stroke-linecap="round" />
<line x1="38.6" y1="-3.1" x2="55.5" y2="-3.1" stroke="#000" stroke-width="1.5"/>
<line x1="38.6" y1="6.2" x2="55.5" y2="6.2" stroke="#000" stroke-width="1.5"/>
<path d="M0.0 -12.5 L38.6 -12.5 A5 12.5 0 0 1 38.6 12.5 L0.0 12.5 A5 12.5 0 0 1 0.0 -12.5 Z" fill="#fff" stroke="#000" stroke-width="4.2" stroke-linejoin="round" stroke-linecap="round" />
</g>
<g transform="translate(1628.5 2148.6) rotate(-149.98)">
<path d="M47.2 -9.5 L54.2 -9.5 A4 9.5 0 0 1 54.2 9.5 L47.2 9.5 Z" fill="#fff" stroke="#000" stroke-width="4.2" stroke-linejoin="round" stroke-linecap="round" />
<path d="M48.2 -9.5 A4 9.5 0 0 1 48.2 9.5" fill="none" stroke="#000" stroke-width="3.2" stroke-linejoin="round" stroke-linecap="round" />
<path d="M33.4 -11.0 L49.2 -11.0 A4 11.0 0 0 1 49.2 11.0 L33.4 11.0 Z" fill="#fff" stroke="#000" stroke-width="4.2" stroke-linejoin="round" stroke-linecap="round" />
<line x1="35.4" y1="-3.1" x2="51.2" y2="-3.1" stroke="#000" stroke-width="1.5"/>
<line x1="35.4" y1="6.2" x2="51.2" y2="6.2" stroke="#000" stroke-width="1.5"/>
<path d="M0.0 -12.5 L35.4 -12.5 A5 12.5 0 0 1 35.4 12.5 L0.0 12.5 A5 12.5 0 0 1 0.0 -12.5 Z" fill="#fff" stroke="#000" stroke-width="4.2" stroke-linejoin="round" stroke-linecap="round" />
</g>
<g transform="translate(1361.5 2221.0) rotate(-149.31)">
<path d="M43.5 -9.5 L49.9 -9.5 A4 9.5 0 0 1 49.9 9.5 L43.5 9.5 Z" fill="#fff" stroke="#000" stroke-width="4.2" stroke-linejoin="round" stroke-linecap="round" />
<path d="M43.9 -9.5 A4 9.5 0 0 1 43.9 9.5" fill="none" stroke="#000" stroke-width="3.2" stroke-linejoin="round" stroke-linecap="round" />
<path d="M30.8 -11.0 L45.5 -11.0 A4 11.0 0 0 1 45.5 11.0 L30.8 11.0 Z" fill="#fff" stroke="#000" stroke-width="4.2" stroke-linejoin="round" stroke-linecap="round" />
<line x1="32.8" y1="-3.1" x2="47.5" y2="-3.1" stroke="#000" stroke-width="1.5"/>
<line x1="32.8" y1="6.2" x2="47.5" y2="6.2" stroke="#000" stroke-width="1.5"/>
<path d="M0.0 -12.5 L32.8 -12.5 A5 12.5 0 0 1 32.8 12.5 L0.0 12.5 A5 12.5 0 0 1 0.0 -12.5 Z" fill="#fff" stroke="#000" stroke-width="4.2" stroke-linejoin="round" stroke-linecap="round" />
</g>
<g transform="translate(1939.0 2311.0) rotate(-147.78)">
<path d="M32.7 -7.0 L69.3 -7.0 A3 7.0 0 0 1 69.3 7.0 L32.7 7.0 Z" fill="#000" stroke="#000" stroke-width="3.2" stroke-linejoin="round" stroke-linecap="round" />
<path d="M40.7 -4.5 A3 7.0 0 0 1 40.7 4.5" fill="none" stroke="#fff" stroke-width="2.2" stroke-linejoin="round" stroke-linecap="round" />
<path d="M48.2 -4.5 A3 7.0 0 0 1 48.2 4.5" fill="none" stroke="#fff" stroke-width="2.2" stroke-linejoin="round" stroke-linecap="round" />
<path d="M55.7 -4.5 A3 7.0 0 0 1 55.7 4.5" fill="none" stroke="#fff" stroke-width="2.2" stroke-linejoin="round" stroke-linecap="round" />
<path d="M0.0 -12.5 L32.7 -12.5 A5 12.5 0 0 1 32.7 12.5 L0.0 12.5 A5 12.5 0 0 0 0.0 -12.5 Z" fill="#fff" stroke="#000" stroke-width="4.2" stroke-linejoin="round" stroke-linecap="round" />
</g>
<g transform="translate(1616.0 2342.0) rotate(-149.80)">
<path d="M35.0 -7.0 L75.5 -7.0 A3 7.0 0 0 1 75.5 7.0 L35.0 7.0 Z" fill="#000" stroke="#000" stroke-width="3.2" stroke-linejoin="round" stroke-linecap="round" />
<path d="M43.0 -4.5 A3 7.0 0 0 1 43.0 4.5" fill="none" stroke="#fff" stroke-width="2.2" stroke-linejoin="round" stroke-linecap="round" />
<path d="M51.8 -4.5 A3 7.0 0 0 1 51.8 4.5" fill="none" stroke="#fff" stroke-width="2.2" stroke-linejoin="round" stroke-linecap="round" />
<path d="M60.7 -4.5 A3 7.0 0 0 1 60.7 4.5" fill="none" stroke="#fff" stroke-width="2.2" stroke-linejoin="round" stroke-linecap="round" />
<path d="M0.0 -12.5 L35.0 -12.5 A5 12.5 0 0 1 35.0 12.5 L0.0 12.5 A5 12.5 0 0 0 0.0 -12.5 Z" fill="#fff" stroke="#000" stroke-width="4.2" stroke-linejoin="round" stroke-linecap="round" />
</g>
<g transform="translate(1350.0 2421.3) rotate(-148.59)">
<path d="M39.6 -7.0 L75.3 -7.0 A3 7.0 0 0 1 75.3 7.0 L39.6 7.0 Z" fill="#000" stroke="#000" stroke-width="3.2" stroke-linejoin="round" stroke-linecap="round" />
<path d="M47.6 -4.5 A3 7.0 0 0 1 47.6 4.5" fill="none" stroke="#fff" stroke-width="2.2" stroke-linejoin="round" stroke-linecap="round" />
<path d="M54.8 -4.5 A3 7.0 0 0 1 54.8 4.5" fill="none" stroke="#fff" stroke-width="2.2" stroke-linejoin="round" stroke-linecap="round" />
<path d="M62.1 -4.5 A3 7.0 0 0 1 62.1 4.5" fill="none" stroke="#fff" stroke-width="2.2" stroke-linejoin="round" stroke-linecap="round" />
<path d="M0.0 -12.5 L39.6 -12.5 A5 12.5 0 0 1 39.6 12.5 L0.0 12.5 A5 12.5 0 0 0 0.0 -12.5 Z" fill="#fff" stroke="#000" stroke-width="4.2" stroke-linejoin="round" stroke-linecap="round" />
</g>
<line x1="1467.9" y1="2259.8" x2="1452.7" y2="2276.7" stroke="#000" stroke-width="1.7"/>
<line x1="1727.3" y1="2183.6" x2="1709.8" y2="2196.4" stroke="#000" stroke-width="1.7"/>
<line x1="2018.9" y1="2132.6" x2="1990.2" y2="2155.0" stroke="#000" stroke-width="1.7"/>
<line x1="1077.7" y1="2070.6" x2="1077.7" y2="2099.3" stroke="#000" stroke-width="2.0"/>
<line x1="1077.7" y1="2116.0" x2="1077.7" y2="2155.0" stroke="#000" stroke-width="2.0"/>
<line x1="1077.7" y1="2182.0" x2="1077.7" y2="2207.4" stroke="#000" stroke-width="2.0"/>
<path d="M1045.4 2110.7 L1049.8 2105.1 L1072.6 2092.2 L1070.5 2100.0 L1074.6 2103.6 L1080.7 2103.6 L1085.2 2100.0 L1083.5 2087.4 L1087.8 2084.1 L1092.3 2084.8 L1105.5 2092.6 L1108.0 2096.5 L1108.0 2103.6 L1105.5 2106.4 L1102.4 2105.6 L1098.9 2109.8 L1078.6 2120.8 L1072.0 2121.3 L1069.0 2127.4 L1064.4 2129.9 L1060.9 2129.1 L1046.7 2120.8 L1045.2 2117.2 Z" fill="#fff" stroke="#000" stroke-width="4.6" stroke-linejoin="round" stroke-linecap="round" />
<path d="M1048.7 2110.7 L1063.4 2118.8 L1104.0 2095.0" fill="none" stroke="#000" stroke-width="1.6" stroke-linejoin="round" stroke-linecap="round" />
<path d="M1063.4 2118.8 L1063.4 2127.7" fill="none" stroke="#000" stroke-width="1.6" stroke-linejoin="round" stroke-linecap="round" />
<path d="M1071.0 2099.0 L1074.6 2103.1 L1080.7 2103.1 L1084.7 2099.5" fill="none" stroke="#000" stroke-width="4.4" stroke-linejoin="round" stroke-linecap="round" />
<line x1="1077.7" y1="2070.6" x2="1077.7" y2="2099.0" stroke="#000" stroke-width="2.0"/>
<path d="M1045.4 2162.3 L1048.2 2159.8 L1054.8 2161.8 L1055.3 2156.3 L1072.6 2145.9 L1072.6 2151.2 L1081.2 2151.2 L1083.5 2140.5 L1087.2 2137.8 L1092.3 2137.8 L1106.5 2146.1 L1108.5 2149.2 L1108.5 2155.7 L1105.0 2159.8 L1065.5 2184.1 L1060.9 2183.8 L1046.7 2174.5 L1045.2 2170.9 Z" fill="#fff" stroke="#000" stroke-width="4.6" stroke-linejoin="round" stroke-linecap="round" />
<path d="M1049.3 2163.3 L1063.4 2172.5 L1068.5 2174.5" fill="none" stroke="#000" stroke-width="4.2" stroke-linejoin="round" stroke-linecap="round" />
<path d="M1057.4 2160.3 L1071.5 2169.6" fill="none" stroke="#000" stroke-width="4.2" stroke-linejoin="round" stroke-linecap="round" />
<path d="M1086.2 2141.1 L1100.9 2151.2 L1105.0 2150.2" fill="none" stroke="#000" stroke-width="4.2" stroke-linejoin="round" stroke-linecap="round" />
<path d="M1090.8 2140.0 L1105.0 2149.2" fill="none" stroke="#000" stroke-width="2.0" stroke-linejoin="round" stroke-linecap="round" />
<path d="M1060.4 2156.3 L1077.6 2167.4 L1105.0 2151.2" fill="none" stroke="#000" stroke-width="1.6" stroke-linejoin="round" stroke-linecap="round" />
<path d="M1064.4 2182.1 L1077.6 2169.4" fill="none" stroke="#000" stroke-width="1.6" stroke-linejoin="round" stroke-linecap="round" />
<ellipse cx="1076.8" cy="2155.7" rx="6.5" ry="3.6" fill="#000" stroke="none" stroke-width="0.0"/>
<line x1="1077.7" y1="2116.0" x2="1077.7" y2="2155.0" stroke="#000" stroke-width="2.0"/>
<path d="M1072.7 2209.5 L1072.7 2243 L1081 2243 L1081 2209.5 Q1077 2206 1072.7 2209.5 Z" fill="#fff" stroke="#000" stroke-width="4.6" stroke-linejoin="round" stroke-linecap="round" />
<path d="M1075 2214 L1079 2214 M1075 2219 L1079 2219 M1075 2224 L1079 2224 M1075 2229 L1079 2229" fill="none" stroke="#000" stroke-width="1.5" stroke-linejoin="round" stroke-linecap="round" />
<ellipse cx="1076.9" cy="2247.0" rx="7.6" ry="5.6" fill="#fff" stroke="#000" stroke-width="4.6"/>
<path d="M1072 2241 L1082 2241" fill="none" stroke="#fff" stroke-width="3.4" stroke-linejoin="round" stroke-linecap="round" />
<line x1="1020.3" y1="2112.0" x2="1044.0" y2="2113.5" stroke="#000" stroke-width="1.7"/>
<line x1="1022.0" y1="2167.0" x2="1044.0" y2="2168.6" stroke="#000" stroke-width="1.7"/>
<line x1="1030.4" y1="2241.0" x2="1069.3" y2="2246.3" stroke="#000" stroke-width="1.7"/>
<filter id="gs" x="0" y="0" width="2126" height="2481" filterUnits="userSpaceOnUse"><feColorMatrix type="saturate" values="0"/></filter><g filter="url(#gs)">
<text x="735.5" y="44.0" font-size="39" text-anchor="middle">10</text>
<text x="659.5" y="111.8" font-size="39" text-anchor="middle">33</text>
<text x="642.3" y="207.6" font-size="39" text-anchor="middle">32</text>
<text x="881.8" y="295.4" font-size="39" text-anchor="middle">32</text>
<text x="994.8" y="245.5" font-size="39" text-anchor="middle">29</text>
<text x="1291.4" y="192.8" font-size="39" text-anchor="middle">30</text>
<text x="1208.4" y="266.3" font-size="39" text-anchor="middle">28</text>
<text x="1186.8" y="361.3" font-size="39" text-anchor="middle">29</text>
<text x="693.4" y="356.0" font-size="39" text-anchor="middle">31</text>
<text x="819.2" y="456.3" font-size="39" text-anchor="middle">33</text>
<text x="1836.3" y="437.8" font-size="39" text-anchor="middle">13</text>
<text x="1890.4" y="506.2" font-size="39" text-anchor="middle">14</text>
<text x="1344.5" y="604.0" font-size="39" text-anchor="middle">15</text>
<text x="847.0" y="658.7" font-size="39" text-anchor="middle">34</text>
<text x="374.5" y="814.9" font-size="39" text-anchor="middle">35</text>
<text x="1139.0" y="828.5" font-size="39" text-anchor="middle">16</text>
<text x="1904.0" y="910.5" font-size="39" text-anchor="middle">4</text>
<text x="1826.3" y="1041.0" font-size="39" text-anchor="middle">5</text>
<text x="1511.2" y="1105.6" font-size="39" text-anchor="middle">17</text>
<text x="1568.8" y="1164.6" font-size="39" text-anchor="middle">14</text>
<text x="1864.3" y="1212.6" font-size="39" text-anchor="middle">6</text>
<text x="2065.0" y="1215.6" font-size="39" text-anchor="middle">5</text>
<text x="1962.5" y="1327.2" font-size="39" text-anchor="middle">10</text>
<text x="1914.7" y="1359.4" font-size="39" text-anchor="middle">9</text>
<text x="1128.0" y="1495.0" font-size="39" text-anchor="middle">37</text>
<text x="1177.8" y="1548.8" font-size="39" text-anchor="middle">14</text>
<text x="1443.3" y="1474.2" font-size="39" text-anchor="middle">38</text>
<text x="1479.2" y="1540.8" font-size="39" text-anchor="middle">14</text>
<text x="1846.8" y="1487.6" font-size="39" text-anchor="middle">7</text>
<text x="705.0" y="1601.8" font-size="39" text-anchor="middle">26</text>
<text x="815.8" y="1629.0" font-size="39" text-anchor="middle">24</text>
<text x="720.0" y="1698.4" font-size="39" text-anchor="middle">25</text>
<text x="729.8" y="1776.0" font-size="39" text-anchor="middle">25</text>
<text x="487.8" y="1722.2" font-size="39" text-anchor="middle">19</text>
<text x="928.7" y="1821.5" font-size="39" text-anchor="middle">21</text>
<text x="954.2" y="1875.7" font-size="39" text-anchor="middle">20</text>
<text x="691.0" y="1931.0" font-size="39" text-anchor="middle">27</text>
<text x="942.4" y="1945.8" font-size="39" text-anchor="middle">22</text>
<text x="787.0" y="2067.0" font-size="39" text-anchor="middle">23</text>
<text x="1620.5" y="1810.4" font-size="39" text-anchor="middle">1</text>
<text x="1996.0" y="1805.6" font-size="39" text-anchor="middle">12</text>
<text x="1999.3" y="1882.6" font-size="39" text-anchor="middle">9</text>
<text x="2001.0" y="1991.8" font-size="39" text-anchor="middle">11</text>
<text x="1772.0" y="2076.5" font-size="39" text-anchor="middle">5</text>
<text x="2042.8" y="2129.0" font-size="39" text-anchor="middle">8</text>
<text x="990.2" y="2124.9" font-size="39" text-anchor="middle">2</text>
<text x="990.2" y="2178.0" font-size="39" text-anchor="middle">2</text>
<text x="1001.0" y="2252.0" font-size="39" text-anchor="middle">3</text>
<text x="1236.4" y="2239.8" font-size="39" text-anchor="middle">15</text>
<text x="1502.5" y="2158.5" font-size="39" text-anchor="middle">15</text>
<text x="1751.0" y="2181.7" font-size="39" text-anchor="middle">36</text>
<text x="1487.0" y="2253.0" font-size="39" text-anchor="middle">36</text>
<text x="28" y="2450" font-size="31" textLength="179" lengthAdjust="spacing">ETN76306B</text>
</g>
</svg>
</body></html>
